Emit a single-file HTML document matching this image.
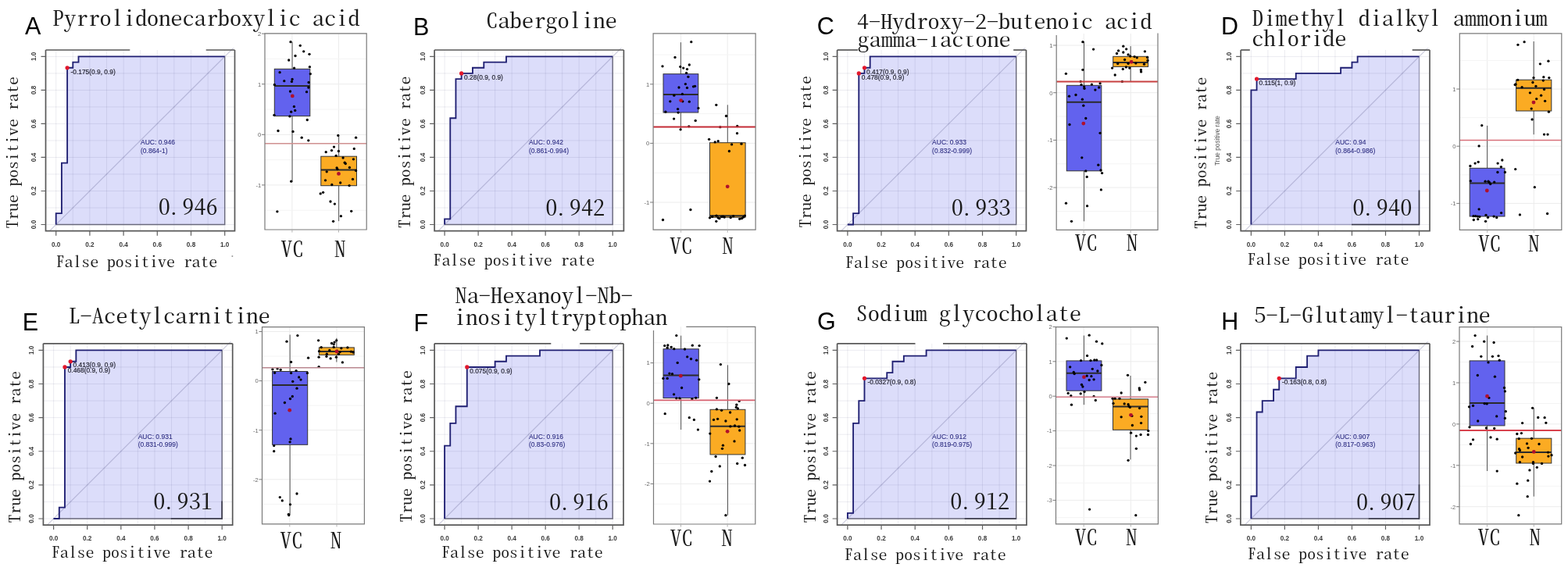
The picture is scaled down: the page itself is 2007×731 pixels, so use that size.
<!DOCTYPE html>
<html><head><meta charset="utf-8"><title>ROC curves and box plots</title>
<style>html,body{margin:0;padding:0;background:#fff;overflow:hidden}svg{display:block}</style>
</head><body>
<svg width="2007" height="731" viewBox="0 0 2007 731">
<rect width="2007" height="731" fill="#fff"/>
<clipPath id="cA"><rect x="58.5" y="61.5" width="244.5" height="234.2"/></clipPath>
<rect x="58.5" y="64" width="242" height="231.7" fill="#fff"/>
<polygon points="71.7,287.5 71.7,273.16 78.9,273.16 78.9,208.63 86.1,208.63 86.1,86.74 93.3,86.74 93.3,79.57 100.5,79.57 100.5,72.4 287.7,72.4 287.7,287.5 71.7,287.5" fill="#dcddfa"/>
<path d="M71.7 64V295.7M58.5 287.5H300.5M93.3 64V295.7M58.5 265.99H300.5M114.9 64V295.7M58.5 244.48H300.5M136.5 64V295.7M58.5 222.97H300.5M158.1 64V295.7M58.5 201.46H300.5M179.7 64V295.7M58.5 179.95H300.5M201.3 64V295.7M58.5 158.44H300.5M222.9 64V295.7M58.5 136.93H300.5M244.5 64V295.7M58.5 115.42H300.5M266.1 64V295.7M58.5 93.91H300.5M287.7 64V295.7M58.5 72.4H300.5" stroke="rgba(40,40,90,0.085)" stroke-width="1" fill="none"/>
<g clip-path="url(#cA)"><line x1="28.5" y1="330.52" x2="330.9" y2="29.38" stroke="rgba(100,100,150,0.32)" stroke-width="1.2"/></g>
<path d="M287.7 72.4V287.5H71.7" stroke="#6a6a7c" stroke-width="1.4" fill="none"/>
<path d="M71.7 287.5 L71.7 273.16 L78.9 273.16 L78.9 208.63 L86.1 208.63 L86.1 86.74 L93.3 86.74 L93.3 79.57 L100.5 79.57 L100.5 72.4 L287.7 72.4" stroke="#1f1f72" stroke-width="1.85" fill="none" stroke-linejoin="miter"/>
<path d="M58.5 64V295.7H300.5V64" stroke="#585858" stroke-width="1.7" fill="none"/>
<line x1="58.5" y1="64" x2="166.3" y2="64" stroke="#585858" stroke-width="1.7"/>
<line x1="263.7" y1="64" x2="300.5" y2="64" stroke="#585858" stroke-width="1.7"/>
<path d="M52.5 287.5H58.5M71.7 295.7V301.7M52.5 244.48H58.5M114.9 295.7V301.7M52.5 201.46H58.5M158.1 295.7V301.7M52.5 158.44H58.5M201.3 295.7V301.7M52.5 115.42H58.5M244.5 295.7V301.7M52.5 72.4H58.5M287.7 295.7V301.7" stroke="#606060" stroke-width="1.2" fill="none"/>
<text x="71.7" y="315.7" font-family="'Liberation Sans', Arial, sans-serif" font-size="8.2" fill="#3c3c3c" text-anchor="middle" font-weight="bold">0.0</text>
<text x="0" y="0" transform="translate(43.9,287.5) rotate(-90)" font-family="'Liberation Sans', Arial, sans-serif" font-size="8.2" fill="#3c3c3c" text-anchor="middle" dominant-baseline="central" font-weight="bold">0.0</text>
<text x="114.9" y="315.7" font-family="'Liberation Sans', Arial, sans-serif" font-size="8.2" fill="#3c3c3c" text-anchor="middle" font-weight="bold">0.2</text>
<text x="0" y="0" transform="translate(43.9,244.48) rotate(-90)" font-family="'Liberation Sans', Arial, sans-serif" font-size="8.2" fill="#3c3c3c" text-anchor="middle" dominant-baseline="central" font-weight="bold">0.2</text>
<text x="158.1" y="315.7" font-family="'Liberation Sans', Arial, sans-serif" font-size="8.2" fill="#3c3c3c" text-anchor="middle" font-weight="bold">0.4</text>
<text x="0" y="0" transform="translate(43.9,201.46) rotate(-90)" font-family="'Liberation Sans', Arial, sans-serif" font-size="8.2" fill="#3c3c3c" text-anchor="middle" dominant-baseline="central" font-weight="bold">0.4</text>
<text x="201.3" y="315.7" font-family="'Liberation Sans', Arial, sans-serif" font-size="8.2" fill="#3c3c3c" text-anchor="middle" font-weight="bold">0.6</text>
<text x="0" y="0" transform="translate(43.9,158.44) rotate(-90)" font-family="'Liberation Sans', Arial, sans-serif" font-size="8.2" fill="#3c3c3c" text-anchor="middle" dominant-baseline="central" font-weight="bold">0.6</text>
<text x="244.5" y="315.7" font-family="'Liberation Sans', Arial, sans-serif" font-size="8.2" fill="#3c3c3c" text-anchor="middle" font-weight="bold">0.8</text>
<text x="0" y="0" transform="translate(43.9,115.42) rotate(-90)" font-family="'Liberation Sans', Arial, sans-serif" font-size="8.2" fill="#3c3c3c" text-anchor="middle" dominant-baseline="central" font-weight="bold">0.8</text>
<text x="287.7" y="315.7" font-family="'Liberation Sans', Arial, sans-serif" font-size="8.2" fill="#3c3c3c" text-anchor="middle" font-weight="bold">1.0</text>
<text x="0" y="0" transform="translate(43.9,72.4) rotate(-90)" font-family="'Liberation Sans', Arial, sans-serif" font-size="8.2" fill="#3c3c3c" text-anchor="middle" dominant-baseline="central" font-weight="bold">1.0</text>
<circle cx="86.1" cy="86.74" r="2.6" fill="#e3182b"/>
<text x="90.5" y="94.9" font-family="'Liberation Sans', Arial, sans-serif" font-size="8.4" fill="#262633" text-anchor="start" stroke="#262633" stroke-width="0.2">-0.175(0.9, 0.9)</text>
<text x="180" y="185.45" font-family="'Liberation Sans', Arial, sans-serif" font-size="8.5" fill="#2c2c80" text-anchor="start" stroke="#2c2c80" stroke-width="0.1">AUC: 0.946</text>
<text x="180" y="195.95" font-family="'Liberation Sans', Arial, sans-serif" font-size="8.5" fill="#2c2c80" text-anchor="start" stroke="#2c2c80" stroke-width="0.1">(0.864-1)</text>
<rect x="339" y="42.8" width="130.2" height="251.2" fill="#fff"/>
<path d="M339 236.9H469.2M339 172.3H469.2M339 107.7H469.2M339 43.1H469.2M373.9 42.8V294M433.5 42.8V294" stroke="#ececec" stroke-width="1" fill="none"/>
<path d="M339 269.2H469.2M339 204.6H469.2M339 140H469.2M339 75.4H469.2" stroke="#f4f4f4" stroke-width="1" fill="none"/>
<path d="M374.05 53.6V88.3M374.05 148.6V232.5" stroke="#505050" stroke-width="1" fill="none"/>
<rect x="351.3" y="88.3" width="45.5" height="60.3" fill="#6262ee" stroke="#333" stroke-width="1"/>
<line x1="351.3" y1="110" x2="396.8" y2="110" stroke="#2b2b2b" stroke-width="2"/>
<path d="M433.65 173.1V200.2M433.65 237.7V283.1" stroke="#505050" stroke-width="1" fill="none"/>
<rect x="410.8" y="200.2" width="45.7" height="37.5" fill="#fbab23" stroke="#333" stroke-width="1"/>
<line x1="410.8" y1="217.5" x2="456.5" y2="217.5" stroke="#2b2b2b" stroke-width="2"/>
<g fill="#000"><circle cx="372" cy="53.7" r="1.65"/><circle cx="384.3" cy="58.3" r="1.65"/><circle cx="388.7" cy="65.8" r="1.65"/><circle cx="396" cy="69.3" r="1.65"/><circle cx="378" cy="71.5" r="1.65"/><circle cx="369.7" cy="77" r="1.65"/><circle cx="376.6" cy="87.1" r="1.65"/><circle cx="396.4" cy="85.7" r="1.65"/><circle cx="358.1" cy="92.7" r="1.65"/><circle cx="397.3" cy="94.6" r="1.65"/><circle cx="363.8" cy="103.7" r="1.65"/><circle cx="374.1" cy="101.4" r="1.65"/><circle cx="373.4" cy="104.4" r="1.65"/><circle cx="395.1" cy="105.5" r="1.65"/><circle cx="351.4" cy="108.5" r="1.65"/><circle cx="394.9" cy="112" r="1.65"/><circle cx="371.5" cy="117" r="1.65"/><circle cx="392.5" cy="117.7" r="1.65"/><circle cx="376.4" cy="136.4" r="1.65"/><circle cx="377.7" cy="141.4" r="1.65"/><circle cx="372.7" cy="143.2" r="1.65"/><circle cx="351" cy="147.3" r="1.65"/><circle cx="370.9" cy="148.9" r="1.65"/><circle cx="393.3" cy="153.5" r="1.65"/><circle cx="356" cy="167.5" r="1.65"/><circle cx="375" cy="168.4" r="1.65"/><circle cx="386.2" cy="176.2" r="1.65"/><circle cx="394.8" cy="179.8" r="1.65"/><circle cx="372.7" cy="232.2" r="1.65"/><circle cx="354.9" cy="270.8" r="1.65"/><circle cx="432.8" cy="173.4" r="1.65"/><circle cx="455.6" cy="176.2" r="1.65"/><circle cx="427.5" cy="188.1" r="1.65"/><circle cx="424.5" cy="192.6" r="1.65"/><circle cx="417.2" cy="194.7" r="1.65"/><circle cx="433.4" cy="193.5" r="1.65"/><circle cx="453.3" cy="190.4" r="1.65"/><circle cx="430.2" cy="199.3" r="1.65"/><circle cx="439.1" cy="202" r="1.65"/><circle cx="452.4" cy="203.8" r="1.65"/><circle cx="441.2" cy="208.2" r="1.65"/><circle cx="442.3" cy="209.5" r="1.65"/><circle cx="447.4" cy="214.4" r="1.65"/><circle cx="431.1" cy="214.8" r="1.65"/><circle cx="431.9" cy="216.6" r="1.65"/><circle cx="418.2" cy="219.8" r="1.65"/><circle cx="455.6" cy="218.4" r="1.65"/><circle cx="416.5" cy="230.8" r="1.65"/><circle cx="451.5" cy="229.4" r="1.65"/><circle cx="435.7" cy="234" r="1.65"/><circle cx="424.8" cy="236.5" r="1.65"/><circle cx="447.1" cy="237.6" r="1.65"/><circle cx="410.2" cy="247.9" r="1.65"/><circle cx="413.6" cy="246.3" r="1.65"/><circle cx="423" cy="258" r="1.65"/><circle cx="428.4" cy="261.1" r="1.65"/><circle cx="449.7" cy="270.3" r="1.65"/><circle cx="436.4" cy="276.7" r="1.65"/><circle cx="426.6" cy="283.3" r="1.65"/></g>
<circle cx="374.3" cy="122.9" r="2.4" fill="#b0102c"/>
<circle cx="433.5" cy="222.4" r="2.4" fill="#b0102c"/>
<line x1="339" y1="183.8" x2="469.2" y2="183.8" stroke="#cf9090" stroke-width="1.5"/>
<path d="M339 42.8H469.2V294H339Z" stroke="#7a7a7a" stroke-width="1.2" fill="none"/>
<text x="334.2" y="45.9" font-family="'Liberation Sans', Arial, sans-serif" font-size="7.6" fill="#666" text-anchor="end" >2</text>
<text x="334.2" y="110.5" font-family="'Liberation Sans', Arial, sans-serif" font-size="7.6" fill="#666" text-anchor="end" >1</text>
<text x="334.2" y="175.1" font-family="'Liberation Sans', Arial, sans-serif" font-size="7.6" fill="#666" text-anchor="end" >0</text>
<text x="334.2" y="239.7" font-family="'Liberation Sans', Arial, sans-serif" font-size="7.6" fill="#666" text-anchor="end" >-1</text>
<path d="M335 43.1H339M335 107.7H339M335 172.3H339M335 236.9H339" stroke="#7a7a7a" stroke-width="1" fill="none"/>
<path d="M373.9 294V297.5M433.5 294V297.5" stroke="#b0b0b0" stroke-width="1" fill="none"/>
<g><text x="340.3347" y="329.1" transform="scale(1.056,1)" font-family="'Noto Serif CJK SC', 'Liberation Serif', serif" font-size="27.651" style="font-feature-settings:'hwid' 1" fill="#1a1a1a" >VC</text></g>
<g><text x="405.2009" y="329.1" transform="scale(1.056,1)" font-family="'Noto Serif CJK SC', 'Liberation Serif', serif" font-size="27.651" style="font-feature-settings:'hwid' 1" fill="#1a1a1a" >N</text></g>
<text x="32" y="43.8" font-family="'Liberation Sans', Arial, sans-serif" font-size="30.5" fill="#000" text-anchor="start" >A</text>
<g><text x="59.2312" y="32.7" transform="scale(1.1328,1)" font-family="'Noto Serif CJK SC', 'Liberation Serif', serif" font-size="26.7114" style="font-feature-settings:'hwid' 1" fill="#1a1a1a" >Pyrrolidonecarboxylic acid</text></g>
<g><text x="62.8625" y="341.6" transform="scale(1.1406,1)" font-family="'Noto Serif CJK SC', 'Liberation Serif', serif" font-size="19.0604" style="font-feature-settings:'hwid' 1" fill="#1a1a1a" >False positive rate</text></g>
<g transform="translate(22.7,292.5) rotate(-90) scale(1.1332,1)"><text x="0" y="0" font-family="'Noto Serif CJK SC', 'Liberation Serif', serif" font-size="19.0604" style="font-feature-settings:'hwid' 1" fill="#1a1a1a">True positive rate</text></g>
<g><text x="188.0431 199.1699 216.231 230.325 244.4189" y="275.4" transform="scale(1.0785,1)" font-family="'Noto Serif CJK SC', 'Liberation Serif', serif" font-size="28.1879" style="font-feature-settings:'hwid' 1" fill="#1a1a1a" >0.946</text></g>
<circle cx="297.4" cy="328" r="1" fill="#999"/>
<clipPath id="cB"><rect x="556.1" y="61.5" width="244.8" height="234.2"/></clipPath>
<rect x="556.1" y="64" width="242.3" height="231.7" fill="#fff"/>
<polygon points="569.1,287.5 569.1,280.33 576.27,280.33 576.27,151.27 583.44,151.27 583.44,101.08 590.61,101.08 590.61,93.91 604.95,93.91 604.95,86.74 619.29,86.74 619.29,79.57 647.97,79.57 647.97,72.4 784.2,72.4 784.2,287.5 569.1,287.5" fill="#dcddfa"/>
<path d="M569.1 64V295.7M556.1 287.5H798.4M590.61 64V295.7M556.1 265.99H798.4M612.12 64V295.7M556.1 244.48H798.4M633.63 64V295.7M556.1 222.97H798.4M655.14 64V295.7M556.1 201.46H798.4M676.65 64V295.7M556.1 179.95H798.4M698.16 64V295.7M556.1 158.44H798.4M719.67 64V295.7M556.1 136.93H798.4M741.18 64V295.7M556.1 115.42H798.4M762.69 64V295.7M556.1 93.91H798.4M784.2 64V295.7M556.1 72.4H798.4" stroke="rgba(40,40,90,0.085)" stroke-width="1" fill="none"/>
<g clip-path="url(#cB)"><line x1="526.08" y1="330.52" x2="827.22" y2="29.38" stroke="rgba(100,100,150,0.32)" stroke-width="1.2"/></g>
<path d="M784.2 72.4V287.5H569.1" stroke="#6a6a7c" stroke-width="1.4" fill="none"/>
<path d="M569.1 287.5 L569.1 280.33 L576.27 280.33 L576.27 151.27 L583.44 151.27 L583.44 101.08 L590.61 101.08 L590.61 93.91 L604.95 93.91 L604.95 86.74 L619.29 86.74 L619.29 79.57 L647.97 79.57 L647.97 72.4 L784.2 72.4" stroke="#1f1f72" stroke-width="1.85" fill="none" stroke-linejoin="miter"/>
<path d="M556.1 64V295.7H798.4V64" stroke="#585858" stroke-width="1.7" fill="none"/>
<line x1="556.1" y1="64" x2="798.4" y2="64" stroke="#585858" stroke-width="1.7"/>
<path d="M550.1 287.5H556.1M569.1 295.7V301.7M550.1 244.48H556.1M612.12 295.7V301.7M550.1 201.46H556.1M655.14 295.7V301.7M550.1 158.44H556.1M698.16 295.7V301.7M550.1 115.42H556.1M741.18 295.7V301.7M550.1 72.4H556.1M784.2 295.7V301.7" stroke="#606060" stroke-width="1.2" fill="none"/>
<text x="569.1" y="315.7" font-family="'Liberation Sans', Arial, sans-serif" font-size="8.2" fill="#3c3c3c" text-anchor="middle" font-weight="bold">0.0</text>
<text x="0" y="0" transform="translate(541.5,287.5) rotate(-90)" font-family="'Liberation Sans', Arial, sans-serif" font-size="8.2" fill="#3c3c3c" text-anchor="middle" dominant-baseline="central" font-weight="bold">0.0</text>
<text x="612.12" y="315.7" font-family="'Liberation Sans', Arial, sans-serif" font-size="8.2" fill="#3c3c3c" text-anchor="middle" font-weight="bold">0.2</text>
<text x="0" y="0" transform="translate(541.5,244.48) rotate(-90)" font-family="'Liberation Sans', Arial, sans-serif" font-size="8.2" fill="#3c3c3c" text-anchor="middle" dominant-baseline="central" font-weight="bold">0.2</text>
<text x="655.14" y="315.7" font-family="'Liberation Sans', Arial, sans-serif" font-size="8.2" fill="#3c3c3c" text-anchor="middle" font-weight="bold">0.4</text>
<text x="0" y="0" transform="translate(541.5,201.46) rotate(-90)" font-family="'Liberation Sans', Arial, sans-serif" font-size="8.2" fill="#3c3c3c" text-anchor="middle" dominant-baseline="central" font-weight="bold">0.4</text>
<text x="698.16" y="315.7" font-family="'Liberation Sans', Arial, sans-serif" font-size="8.2" fill="#3c3c3c" text-anchor="middle" font-weight="bold">0.6</text>
<text x="0" y="0" transform="translate(541.5,158.44) rotate(-90)" font-family="'Liberation Sans', Arial, sans-serif" font-size="8.2" fill="#3c3c3c" text-anchor="middle" dominant-baseline="central" font-weight="bold">0.6</text>
<text x="741.18" y="315.7" font-family="'Liberation Sans', Arial, sans-serif" font-size="8.2" fill="#3c3c3c" text-anchor="middle" font-weight="bold">0.8</text>
<text x="0" y="0" transform="translate(541.5,115.42) rotate(-90)" font-family="'Liberation Sans', Arial, sans-serif" font-size="8.2" fill="#3c3c3c" text-anchor="middle" dominant-baseline="central" font-weight="bold">0.8</text>
<text x="784.2" y="315.7" font-family="'Liberation Sans', Arial, sans-serif" font-size="8.2" fill="#3c3c3c" text-anchor="middle" font-weight="bold">1.0</text>
<text x="0" y="0" transform="translate(541.5,72.4) rotate(-90)" font-family="'Liberation Sans', Arial, sans-serif" font-size="8.2" fill="#3c3c3c" text-anchor="middle" dominant-baseline="central" font-weight="bold">1.0</text>
<circle cx="590.61" cy="93.91" r="2.6" fill="#e3182b"/>
<text x="594.1" y="102" font-family="'Liberation Sans', Arial, sans-serif" font-size="8.4" fill="#262633" text-anchor="start" stroke="#262633" stroke-width="0.2">0.28(0.9, 0.9)</text>
<text x="676.95" y="185.45" font-family="'Liberation Sans', Arial, sans-serif" font-size="8.5" fill="#2c2c80" text-anchor="start" stroke="#2c2c80" stroke-width="0.1">AUC: 0.942</text>
<text x="676.95" y="195.95" font-family="'Liberation Sans', Arial, sans-serif" font-size="8.5" fill="#2c2c80" text-anchor="start" stroke="#2c2c80" stroke-width="0.1">(0.861-0.994)</text>
<rect x="836.1" y="42.8" width="131" height="251.4" fill="#fff"/>
<path d="M836.1 259H967.1M836.1 183.4H967.1M836.1 107.8H967.1M871.6 42.8V294.2M931.2 42.8V294.2" stroke="#ececec" stroke-width="1" fill="none"/>
<path d="M836.1 221.2H967.1M836.1 145.6H967.1M836.1 70H967.1" stroke="#f4f4f4" stroke-width="1" fill="none"/>
<path d="M871.4 54.2V94.7M871.4 144V165.6" stroke="#505050" stroke-width="1" fill="none"/>
<rect x="849" y="94.7" width="44.8" height="49.3" fill="#6262ee" stroke="#333" stroke-width="1"/>
<line x1="849" y1="121" x2="893.8" y2="121" stroke="#2b2b2b" stroke-width="2"/>
<path d="M931.3 134.3V182.7M931.3 278.2V278.2" stroke="#505050" stroke-width="1" fill="none"/>
<rect x="908.5" y="182.7" width="45.6" height="95.5" fill="#fbab23" stroke="#333" stroke-width="1"/>
<line x1="908.5" y1="276.3" x2="954.1" y2="276.3" stroke="#2b2b2b" stroke-width="2"/>
<g fill="#000"><circle cx="884.8" cy="53.7" r="1.65"/><circle cx="864" cy="73.4" r="1.65"/><circle cx="848" cy="84.8" r="1.65"/><circle cx="870.8" cy="85.4" r="1.65"/><circle cx="874.7" cy="87.1" r="1.65"/><circle cx="882.3" cy="83" r="1.65"/><circle cx="879.5" cy="88.6" r="1.65"/><circle cx="878.6" cy="93.4" r="1.65"/><circle cx="880.9" cy="98.3" r="1.65"/><circle cx="877.4" cy="107.6" r="1.65"/><circle cx="869" cy="112" r="1.65"/><circle cx="879.5" cy="112.4" r="1.65"/><circle cx="887.5" cy="110.8" r="1.65"/><circle cx="889.5" cy="110.3" r="1.65"/><circle cx="873.4" cy="120.4" r="1.65"/><circle cx="862.8" cy="122.2" r="1.65"/><circle cx="857.8" cy="129.8" r="1.65"/><circle cx="873.8" cy="129.8" r="1.65"/><circle cx="882.3" cy="130.2" r="1.65"/><circle cx="893.9" cy="138.4" r="1.65"/><circle cx="867.6" cy="139.6" r="1.65"/><circle cx="851.9" cy="143.2" r="1.65"/><circle cx="868.1" cy="144.1" r="1.65"/><circle cx="862.6" cy="152.1" r="1.65"/><circle cx="890.2" cy="154.4" r="1.65"/><circle cx="881.8" cy="161.8" r="1.65"/><circle cx="871.1" cy="165.8" r="1.65"/><circle cx="883.9" cy="268.5" r="1.65"/><circle cx="848.5" cy="281.5" r="1.65"/><circle cx="916.8" cy="134.3" r="1.65"/><circle cx="929.5" cy="148.5" r="1.65"/><circle cx="921.8" cy="162.7" r="1.65"/><circle cx="943.7" cy="161.5" r="1.65"/><circle cx="943.5" cy="170.7" r="1.65"/><circle cx="907.6" cy="178.3" r="1.65"/><circle cx="915.2" cy="181.9" r="1.65"/><circle cx="919.2" cy="180.7" r="1.65"/><circle cx="936.6" cy="184.9" r="1.65"/><circle cx="949" cy="184.2" r="1.65"/><circle cx="933.4" cy="193.5" r="1.65"/><circle cx="908.5" cy="278.8" r="1.65"/><circle cx="911.7" cy="277.4" r="1.65"/><circle cx="917" cy="276.2" r="1.65"/><circle cx="919.2" cy="278.8" r="1.65"/><circle cx="920.9" cy="279.7" r="1.65"/><circle cx="923.6" cy="277.4" r="1.65"/><circle cx="925.4" cy="277.1" r="1.65"/><circle cx="927.2" cy="278" r="1.65"/><circle cx="935.2" cy="278.5" r="1.65"/><circle cx="938.7" cy="276.7" r="1.65"/><circle cx="946.7" cy="280.3" r="1.65"/><circle cx="949.4" cy="279.7" r="1.65"/><circle cx="951.5" cy="278" r="1.65"/><circle cx="953.3" cy="276.2" r="1.65"/><circle cx="916.8" cy="283.3" r="1.65"/></g>
<circle cx="871.6" cy="128.6" r="2.4" fill="#b0102c"/>
<circle cx="931.2" cy="238.8" r="2.4" fill="#b0102c"/>
<line x1="836.1" y1="162.4" x2="967.1" y2="162.4" stroke="#c42c36" stroke-width="2"/>
<path d="M836.1 42.8H967.1V294.2H836.1Z" stroke="#7a7a7a" stroke-width="1.2" fill="none"/>
<text x="831.3" y="110.6" font-family="'Liberation Sans', Arial, sans-serif" font-size="7.6" fill="#666" text-anchor="end" >1</text>
<text x="831.3" y="186.2" font-family="'Liberation Sans', Arial, sans-serif" font-size="7.6" fill="#666" text-anchor="end" >0</text>
<text x="831.3" y="261.8" font-family="'Liberation Sans', Arial, sans-serif" font-size="7.6" fill="#666" text-anchor="end" >-1</text>
<path d="M832.1 107.8H836.1M832.1 183.4H836.1M832.1 259H836.1" stroke="#7a7a7a" stroke-width="1" fill="none"/>
<path d="M871.6 294.2V297.7M931.2 294.2V297.7" stroke="#b0b0b0" stroke-width="1" fill="none"/>
<g><text x="811.7275" y="325.3" transform="scale(1.056,1)" font-family="'Noto Serif CJK SC', 'Liberation Serif', serif" font-size="27.651" style="font-feature-settings:'hwid' 1" fill="#1a1a1a" >VC</text></g>
<g><text x="875.268" y="325.3" transform="scale(1.056,1)" font-family="'Noto Serif CJK SC', 'Liberation Serif', serif" font-size="27.651" style="font-feature-settings:'hwid' 1" fill="#1a1a1a" >N</text></g>
<text x="529.1" y="44.9" font-family="'Liberation Sans', Arial, sans-serif" font-size="30.5" fill="#000" text-anchor="start" >B</text>
<g><text x="544.8252" y="35.7" transform="scale(1.1418,1)" font-family="'Noto Serif CJK SC', 'Liberation Serif', serif" font-size="26.7114" style="font-feature-settings:'hwid' 1" fill="#1a1a1a" >Cabergoline</text></g>
<g><text x="486.2419" y="340.5" transform="scale(1.1406,1)" font-family="'Noto Serif CJK SC', 'Liberation Serif', serif" font-size="19.0604" style="font-feature-settings:'hwid' 1" fill="#1a1a1a" >False positive rate</text></g>
<g transform="translate(525.1,291.9) rotate(-90) scale(1.1332,1)"><text x="0" y="0" font-family="'Noto Serif CJK SC', 'Liberation Serif', serif" font-size="19.0604" style="font-feature-settings:'hwid' 1" fill="#1a1a1a">True positive rate</text></g>
<g><text x="647.4876 658.6144 675.6756 689.7695 703.8635" y="276" transform="scale(1.0785,1)" font-family="'Noto Serif CJK SC', 'Liberation Serif', serif" font-size="28.1879" style="font-feature-settings:'hwid' 1" fill="#1a1a1a" >0.942</text></g>
<clipPath id="cC"><rect x="1071.6" y="61.5" width="244.4" height="234.2"/></clipPath>
<rect x="1071.6" y="64" width="241.9" height="231.7" fill="#fff"/>
<polygon points="1084.9,287.5 1092.09,287.5 1092.09,273.16 1099.29,273.16 1099.29,93.91 1106.48,93.91 1106.48,86.74 1113.67,86.74 1113.67,72.4 1300.7,72.4 1300.7,287.5 1084.9,287.5" fill="#dcddfa"/>
<path d="M1084.9 64V295.7M1071.6 287.5H1313.5M1106.48 64V295.7M1071.6 265.99H1313.5M1128.06 64V295.7M1071.6 244.48H1313.5M1149.64 64V295.7M1071.6 222.97H1313.5M1171.22 64V295.7M1071.6 201.46H1313.5M1192.8 64V295.7M1071.6 179.95H1313.5M1214.38 64V295.7M1071.6 158.44H1313.5M1235.96 64V295.7M1071.6 136.93H1313.5M1257.54 64V295.7M1071.6 115.42H1313.5M1279.12 64V295.7M1071.6 93.91H1313.5M1300.7 64V295.7M1071.6 72.4H1313.5" stroke="rgba(40,40,90,0.085)" stroke-width="1" fill="none"/>
<g clip-path="url(#cC)"><line x1="1041.74" y1="330.52" x2="1343.86" y2="29.38" stroke="rgba(100,100,150,0.32)" stroke-width="1.2"/></g>
<path d="M1300.7 72.4V287.5H1084.9" stroke="#6a6a7c" stroke-width="1.4" fill="none"/>
<path d="M1084.9 287.5 L1092.09 287.5 L1092.09 273.16 L1099.29 273.16 L1099.29 93.91 L1106.48 93.91 L1106.48 86.74 L1113.67 86.74 L1113.67 72.4 L1300.7 72.4" stroke="#1f1f72" stroke-width="1.85" fill="none" stroke-linejoin="miter"/>
<path d="M1071.6 64V295.7H1313.5V64" stroke="#585858" stroke-width="1.7" fill="none"/>
<line x1="1071.6" y1="64" x2="1098" y2="64" stroke="#585858" stroke-width="1.7"/>
<line x1="1297.2" y1="64" x2="1313.5" y2="64" stroke="#585858" stroke-width="1.7"/>
<path d="M1065.6 287.5H1071.6M1084.9 295.7V301.7M1065.6 244.48H1071.6M1128.06 295.7V301.7M1065.6 201.46H1071.6M1171.22 295.7V301.7M1065.6 158.44H1071.6M1214.38 295.7V301.7M1065.6 115.42H1071.6M1257.54 295.7V301.7M1065.6 72.4H1071.6M1300.7 295.7V301.7" stroke="#606060" stroke-width="1.2" fill="none"/>
<text x="1084.9" y="315.7" font-family="'Liberation Sans', Arial, sans-serif" font-size="8.2" fill="#3c3c3c" text-anchor="middle" font-weight="bold">0.0</text>
<text x="0" y="0" transform="translate(1057,287.5) rotate(-90)" font-family="'Liberation Sans', Arial, sans-serif" font-size="8.2" fill="#3c3c3c" text-anchor="middle" dominant-baseline="central" font-weight="bold">0.0</text>
<text x="1128.06" y="315.7" font-family="'Liberation Sans', Arial, sans-serif" font-size="8.2" fill="#3c3c3c" text-anchor="middle" font-weight="bold">0.2</text>
<text x="0" y="0" transform="translate(1057,244.48) rotate(-90)" font-family="'Liberation Sans', Arial, sans-serif" font-size="8.2" fill="#3c3c3c" text-anchor="middle" dominant-baseline="central" font-weight="bold">0.2</text>
<text x="1171.22" y="315.7" font-family="'Liberation Sans', Arial, sans-serif" font-size="8.2" fill="#3c3c3c" text-anchor="middle" font-weight="bold">0.4</text>
<text x="0" y="0" transform="translate(1057,201.46) rotate(-90)" font-family="'Liberation Sans', Arial, sans-serif" font-size="8.2" fill="#3c3c3c" text-anchor="middle" dominant-baseline="central" font-weight="bold">0.4</text>
<text x="1214.38" y="315.7" font-family="'Liberation Sans', Arial, sans-serif" font-size="8.2" fill="#3c3c3c" text-anchor="middle" font-weight="bold">0.6</text>
<text x="0" y="0" transform="translate(1057,158.44) rotate(-90)" font-family="'Liberation Sans', Arial, sans-serif" font-size="8.2" fill="#3c3c3c" text-anchor="middle" dominant-baseline="central" font-weight="bold">0.6</text>
<text x="1257.54" y="315.7" font-family="'Liberation Sans', Arial, sans-serif" font-size="8.2" fill="#3c3c3c" text-anchor="middle" font-weight="bold">0.8</text>
<text x="0" y="0" transform="translate(1057,115.42) rotate(-90)" font-family="'Liberation Sans', Arial, sans-serif" font-size="8.2" fill="#3c3c3c" text-anchor="middle" dominant-baseline="central" font-weight="bold">0.8</text>
<text x="1300.7" y="315.7" font-family="'Liberation Sans', Arial, sans-serif" font-size="8.2" fill="#3c3c3c" text-anchor="middle" font-weight="bold">1.0</text>
<text x="0" y="0" transform="translate(1057,72.4) rotate(-90)" font-family="'Liberation Sans', Arial, sans-serif" font-size="8.2" fill="#3c3c3c" text-anchor="middle" dominant-baseline="central" font-weight="bold">1.0</text>
<circle cx="1099.29" cy="93.91" r="2.6" fill="#e3182b"/>
<text x="1102.8" y="102" font-family="'Liberation Sans', Arial, sans-serif" font-size="8.4" fill="#262633" text-anchor="start" stroke="#262633" stroke-width="0.2">0.478(0.9, 0.9)</text>
<circle cx="1106.48" cy="86.74" r="2.6" fill="#e3182b"/>
<text x="1109" y="94.8" font-family="'Liberation Sans', Arial, sans-serif" font-size="8.4" fill="#262633" text-anchor="start" stroke="#262633" stroke-width="0.2">0.417(0.9, 0.9)</text>
<text x="1193.1" y="185.45" font-family="'Liberation Sans', Arial, sans-serif" font-size="8.5" fill="#2c2c80" text-anchor="start" stroke="#2c2c80" stroke-width="0.1">AUC: 0.933</text>
<text x="1193.1" y="195.95" font-family="'Liberation Sans', Arial, sans-serif" font-size="8.5" fill="#2c2c80" text-anchor="start" stroke="#2c2c80" stroke-width="0.1">(0.832-0.999)</text>
<rect x="1352.2" y="43" width="129.8" height="251.4" fill="#fff"/>
<path d="M1352.2 240.1H1482M1352.2 179.4H1482M1352.2 118.7H1482M1352.2 58H1482M1387.2 43V294.4M1447.3 43V294.4" stroke="#ececec" stroke-width="1" fill="none"/>
<path d="M1352.2 270.45H1482M1352.2 209.75H1482M1352.2 149.05H1482M1352.2 88.35H1482" stroke="#f4f4f4" stroke-width="1" fill="none"/>
<path d="M1387.55 53V109.3M1387.55 218.8V283.3" stroke="#505050" stroke-width="1" fill="none"/>
<rect x="1365.3" y="109.3" width="44.5" height="109.5" fill="#6262ee" stroke="#333" stroke-width="1"/>
<line x1="1365.3" y1="130.7" x2="1409.8" y2="130.7" stroke="#2b2b2b" stroke-width="2"/>
<path d="M1447.15 59.1V72.3M1447.15 85.4V104.4" stroke="#505050" stroke-width="1" fill="none"/>
<rect x="1424.7" y="72.3" width="44.9" height="13.1" fill="#fbab23" stroke="#333" stroke-width="1"/>
<line x1="1424.7" y1="79.9" x2="1469.6" y2="79.9" stroke="#2b2b2b" stroke-width="2"/>
<g fill="#000"><circle cx="1385.9" cy="53.7" r="1.65"/><circle cx="1399.6" cy="63.1" r="1.65"/><circle cx="1364.4" cy="94.3" r="1.65"/><circle cx="1385.9" cy="89.3" r="1.65"/><circle cx="1383.2" cy="104.4" r="1.65"/><circle cx="1384.1" cy="108.5" r="1.65"/><circle cx="1387.7" cy="111.1" r="1.65"/><circle cx="1388" cy="113.3" r="1.65"/><circle cx="1397.4" cy="108.1" r="1.65"/><circle cx="1408.1" cy="106.7" r="1.65"/><circle cx="1406.7" cy="112" r="1.65"/><circle cx="1401.9" cy="115.1" r="1.65"/><circle cx="1368.5" cy="123.2" r="1.65"/><circle cx="1377" cy="121.5" r="1.65"/><circle cx="1385.4" cy="127.2" r="1.65"/><circle cx="1386.8" cy="135.2" r="1.65"/><circle cx="1389.8" cy="151.5" r="1.65"/><circle cx="1369" cy="159.5" r="1.65"/><circle cx="1408.1" cy="170.3" r="1.65"/><circle cx="1384.8" cy="201.8" r="1.65"/><circle cx="1405.8" cy="211.2" r="1.65"/><circle cx="1389.8" cy="218.9" r="1.65"/><circle cx="1409" cy="218" r="1.65"/><circle cx="1410.6" cy="221.6" r="1.65"/><circle cx="1391.2" cy="226.4" r="1.65"/><circle cx="1409.4" cy="242.9" r="1.65"/><circle cx="1364.5" cy="260.2" r="1.65"/><circle cx="1391.6" cy="263.7" r="1.65"/><circle cx="1371.5" cy="283.3" r="1.65"/><circle cx="1437.8" cy="59.2" r="1.65"/><circle cx="1441.7" cy="62.8" r="1.65"/><circle cx="1431.6" cy="64.9" r="1.65"/><circle cx="1429.5" cy="68.5" r="1.65"/><circle cx="1437.8" cy="67" r="1.65"/><circle cx="1465.4" cy="65.8" r="1.65"/><circle cx="1444.1" cy="69.9" r="1.65"/><circle cx="1446.7" cy="72" r="1.65"/><circle cx="1452.1" cy="72.6" r="1.65"/><circle cx="1455.3" cy="73.8" r="1.65"/><circle cx="1468.6" cy="73.4" r="1.65"/><circle cx="1439.6" cy="76.5" r="1.65"/><circle cx="1448.5" cy="78.8" r="1.65"/><circle cx="1453.8" cy="80.9" r="1.65"/><circle cx="1444.1" cy="81.3" r="1.65"/><circle cx="1430.7" cy="81.4" r="1.65"/><circle cx="1464.5" cy="82.2" r="1.65"/><circle cx="1469" cy="77.4" r="1.65"/><circle cx="1441.4" cy="85.9" r="1.65"/><circle cx="1445.8" cy="87.1" r="1.65"/><circle cx="1437.3" cy="88.4" r="1.65"/><circle cx="1423.6" cy="87.1" r="1.65"/><circle cx="1460.4" cy="89.4" r="1.65"/><circle cx="1460.6" cy="91.9" r="1.65"/><circle cx="1427.2" cy="96" r="1.65"/><circle cx="1436.4" cy="104.4" r="1.65"/></g>
<circle cx="1386.8" cy="158.1" r="2.4" fill="#b0102c"/>
<circle cx="1448" cy="79.3" r="2.4" fill="#b0102c"/>
<line x1="1352.2" y1="104.4" x2="1482" y2="104.4" stroke="#c84040" stroke-width="2"/>
<path d="M1352.2 44.9V294.4H1482V42.6" stroke="#7a7a7a" stroke-width="1.2" fill="none"/>
<text x="1347.4" y="60.8" font-family="'Liberation Sans', Arial, sans-serif" font-size="7.6" fill="#666" text-anchor="end" >1</text>
<text x="1347.4" y="121.5" font-family="'Liberation Sans', Arial, sans-serif" font-size="7.6" fill="#666" text-anchor="end" >0</text>
<text x="1347.4" y="182.2" font-family="'Liberation Sans', Arial, sans-serif" font-size="7.6" fill="#666" text-anchor="end" >-1</text>
<text x="1347.4" y="242.9" font-family="'Liberation Sans', Arial, sans-serif" font-size="7.6" fill="#666" text-anchor="end" >-2</text>
<path d="M1348.2 58H1352.2M1348.2 118.7H1352.2M1348.2 179.4H1352.2M1348.2 240.1H1352.2" stroke="#7a7a7a" stroke-width="1" fill="none"/>
<path d="M1387.2 294.4V297.9M1447.3 294.4V297.9" stroke="#b0b0b0" stroke-width="1" fill="none"/>
<g><text x="1302.7223" y="321.5" transform="scale(1.056,1)" font-family="'Noto Serif CJK SC', 'Liberation Serif', serif" font-size="27.651" style="font-feature-settings:'hwid' 1" fill="#1a1a1a" >VC</text></g>
<g><text x="1365.3158" y="321.5" transform="scale(1.056,1)" font-family="'Noto Serif CJK SC', 'Liberation Serif', serif" font-size="27.651" style="font-feature-settings:'hwid' 1" fill="#1a1a1a" >N</text></g>
<text x="1045.8" y="44.2" font-family="'Liberation Sans', Arial, sans-serif" font-size="30.5" fill="#000" text-anchor="start" >C</text>
<g><text x="921.521" y="36.9" transform="scale(1.1904,1)" font-family="'Noto Serif CJK SC', 'Liberation Serif', serif" font-size="25.3691" style="font-feature-settings:'hwid' 1" fill="#1a1a1a" >4-Hydroxy-2-butenoic acid</text></g>
<clipPath id="tcC"><rect x="0" y="46.6" width="2007" height="100"/></clipPath>
<g clip-path="url(#tcC)"><text x="921.941" y="59.8" transform="scale(1.1904,1)" font-family="'Noto Serif CJK SC', 'Liberation Serif', serif" font-size="25.3691" style="font-feature-settings:'hwid' 1" fill="#1a1a1a" >gamma-lactone</text></g>
<g><text x="948.7241" y="342.8" transform="scale(1.1406,1)" font-family="'Noto Serif CJK SC', 'Liberation Serif', serif" font-size="19.0604" style="font-feature-settings:'hwid' 1" fill="#1a1a1a" >False positive rate</text></g>
<g transform="translate(1038,291.5) rotate(-90) scale(1.1332,1)"><text x="0" y="0" font-family="'Noto Serif CJK SC', 'Liberation Serif', serif" font-size="19.0604" style="font-feature-settings:'hwid' 1" fill="#1a1a1a">True positive rate</text></g>
<g><text x="1129.1858 1140.3126 1157.3737 1171.4677 1185.5616" y="275.8" transform="scale(1.0785,1)" font-family="'Noto Serif CJK SC', 'Liberation Serif', serif" font-size="28.1879" style="font-feature-settings:'hwid' 1" fill="#1a1a1a" >0.933</text></g>
<clipPath id="cD"><rect x="1588.2" y="61.5" width="244.3" height="234.2"/></clipPath>
<rect x="1588.2" y="64" width="241.8" height="231.7" fill="#fff"/>
<polygon points="1601.4,287.5 1601.4,115.42 1608.57,115.42 1608.57,101.08 1658.76,101.08 1658.76,93.91 1716.12,93.91 1716.12,86.74 1730.46,86.74 1730.46,79.57 1737.63,79.57 1737.63,72.4 1816.5,72.4 1816.5,287.5 1601.4,287.5" fill="#dcddfa"/>
<path d="M1601.4 64V295.7M1588.2 287.5H1830M1622.91 64V295.7M1588.2 265.99H1830M1644.42 64V295.7M1588.2 244.48H1830M1665.93 64V295.7M1588.2 222.97H1830M1687.44 64V295.7M1588.2 201.46H1830M1708.95 64V295.7M1588.2 179.95H1830M1730.46 64V295.7M1588.2 158.44H1830M1751.97 64V295.7M1588.2 136.93H1830M1773.48 64V295.7M1588.2 115.42H1830M1794.99 64V295.7M1588.2 93.91H1830M1816.5 64V295.7M1588.2 72.4H1830" stroke="rgba(40,40,90,0.085)" stroke-width="1" fill="none"/>
<g clip-path="url(#cD)"><line x1="1558.38" y1="330.52" x2="1859.52" y2="29.38" stroke="rgba(100,100,150,0.32)" stroke-width="1.2"/></g>
<path d="M1816.5 72.4V287.5H1601.4" stroke="#9c9cba" stroke-width="1.4" fill="none"/>
<path d="M1816.5 243.6V287.5H1730" stroke="#3a3a4a" stroke-width="1.6" fill="none"/>
<path d="M1601.4 287.5 L1601.4 115.42 L1608.57 115.42 L1608.57 101.08 L1658.76 101.08 L1658.76 93.91 L1716.12 93.91 L1716.12 86.74 L1730.46 86.74 L1730.46 79.57 L1737.63 79.57 L1737.63 72.4 L1816.5 72.4" stroke="#1f1f72" stroke-width="1.85" fill="none" stroke-linejoin="miter"/>
<path d="M1588.2 64V295.7H1830V64" stroke="#585858" stroke-width="1.7" fill="none"/>
<line x1="1588.2" y1="64" x2="1599.8" y2="64" stroke="#585858" stroke-width="1.7"/>
<line x1="1807.7" y1="64" x2="1830" y2="64" stroke="#585858" stroke-width="1.7"/>
<path d="M1582.2 287.5H1588.2M1601.4 295.7V301.7M1582.2 244.48H1588.2M1644.42 295.7V301.7M1582.2 201.46H1588.2M1687.44 295.7V301.7M1582.2 158.44H1588.2M1730.46 295.7V301.7M1582.2 115.42H1588.2M1773.48 295.7V301.7M1582.2 72.4H1588.2M1816.5 295.7V301.7" stroke="#606060" stroke-width="1.2" fill="none"/>
<text x="1601.4" y="315.7" font-family="'Liberation Sans', Arial, sans-serif" font-size="8.2" fill="#3c3c3c" text-anchor="middle" font-weight="bold">0.0</text>
<text x="0" y="0" transform="translate(1573.6,287.5) rotate(-90)" font-family="'Liberation Sans', Arial, sans-serif" font-size="8.2" fill="#3c3c3c" text-anchor="middle" dominant-baseline="central" font-weight="bold">0.0</text>
<text x="1644.42" y="315.7" font-family="'Liberation Sans', Arial, sans-serif" font-size="8.2" fill="#3c3c3c" text-anchor="middle" font-weight="bold">0.2</text>
<text x="0" y="0" transform="translate(1573.6,244.48) rotate(-90)" font-family="'Liberation Sans', Arial, sans-serif" font-size="8.2" fill="#3c3c3c" text-anchor="middle" dominant-baseline="central" font-weight="bold">0.2</text>
<text x="1687.44" y="315.7" font-family="'Liberation Sans', Arial, sans-serif" font-size="8.2" fill="#3c3c3c" text-anchor="middle" font-weight="bold">0.4</text>
<text x="0" y="0" transform="translate(1573.6,201.46) rotate(-90)" font-family="'Liberation Sans', Arial, sans-serif" font-size="8.2" fill="#3c3c3c" text-anchor="middle" dominant-baseline="central" font-weight="bold">0.4</text>
<text x="1730.46" y="315.7" font-family="'Liberation Sans', Arial, sans-serif" font-size="8.2" fill="#3c3c3c" text-anchor="middle" font-weight="bold">0.6</text>
<text x="0" y="0" transform="translate(1573.6,158.44) rotate(-90)" font-family="'Liberation Sans', Arial, sans-serif" font-size="8.2" fill="#3c3c3c" text-anchor="middle" dominant-baseline="central" font-weight="bold">0.6</text>
<text x="1773.48" y="315.7" font-family="'Liberation Sans', Arial, sans-serif" font-size="8.2" fill="#3c3c3c" text-anchor="middle" font-weight="bold">0.8</text>
<text x="0" y="0" transform="translate(1573.6,115.42) rotate(-90)" font-family="'Liberation Sans', Arial, sans-serif" font-size="8.2" fill="#3c3c3c" text-anchor="middle" dominant-baseline="central" font-weight="bold">0.8</text>
<text x="1816.5" y="315.7" font-family="'Liberation Sans', Arial, sans-serif" font-size="8.2" fill="#3c3c3c" text-anchor="middle" font-weight="bold">1.0</text>
<text x="0" y="0" transform="translate(1573.6,72.4) rotate(-90)" font-family="'Liberation Sans', Arial, sans-serif" font-size="8.2" fill="#3c3c3c" text-anchor="middle" dominant-baseline="central" font-weight="bold">1.0</text>
<circle cx="1608.57" cy="101.08" r="2.6" fill="#e3182b"/>
<text x="1611.5" y="109.4" font-family="'Liberation Sans', Arial, sans-serif" font-size="8.4" fill="#262633" text-anchor="start" stroke="#262633" stroke-width="0.2">0.115(1, 0.9)</text>
<text x="1709.25" y="185.45" font-family="'Liberation Sans', Arial, sans-serif" font-size="8.5" fill="#2c2c80" text-anchor="start" stroke="#2c2c80" stroke-width="0.1">AUC: 0.94</text>
<text x="1709.25" y="195.95" font-family="'Liberation Sans', Arial, sans-serif" font-size="8.5" fill="#2c2c80" text-anchor="start" stroke="#2c2c80" stroke-width="0.1">(0.864-0.986)</text>
<rect x="1868.3" y="42.8" width="130.5" height="251.6" fill="#fff"/>
<path d="M1868.3 260.4H1998.8M1868.3 187.2H1998.8M1868.3 114H1998.8M1903.5 42.8V294.4M1963.3 42.8V294.4" stroke="#ececec" stroke-width="1" fill="none"/>
<path d="M1868.3 223.8H1998.8M1868.3 150.6H1998.8M1868.3 77.4H1998.8" stroke="#f4f4f4" stroke-width="1" fill="none"/>
<path d="M1903.6 160.9V215.3M1903.6 277V277" stroke="#505050" stroke-width="1" fill="none"/>
<rect x="1881.2" y="215.3" width="44.8" height="61.7" fill="#6262ee" stroke="#333" stroke-width="1"/>
<line x1="1881.2" y1="234.4" x2="1926" y2="234.4" stroke="#2b2b2b" stroke-width="2"/>
<path d="M1963.15 53V102.2M1963.15 142V172.2" stroke="#505050" stroke-width="1" fill="none"/>
<rect x="1940.5" y="102.2" width="45.3" height="39.8" fill="#fbab23" stroke="#333" stroke-width="1"/>
<line x1="1940.5" y1="112.7" x2="1985.8" y2="112.7" stroke="#2b2b2b" stroke-width="2"/>
<g fill="#000"><circle cx="1942.9" cy="57.3" r="1.65"/><circle cx="1951.1" cy="53.7" r="1.65"/><circle cx="1971.4" cy="81.8" r="1.65"/><circle cx="1981.9" cy="78.2" r="1.65"/><circle cx="1963" cy="99.6" r="1.65"/><circle cx="1975.8" cy="98.7" r="1.65"/><circle cx="1982.8" cy="99.6" r="1.65"/><circle cx="1942.7" cy="102.3" r="1.65"/><circle cx="1975.3" cy="103.1" r="1.65"/><circle cx="1961.9" cy="105.5" r="1.65"/><circle cx="1940.1" cy="108" r="1.65"/><circle cx="1939.2" cy="108.5" r="1.65"/><circle cx="1965.9" cy="110.3" r="1.65"/><circle cx="1948.1" cy="111.7" r="1.65"/><circle cx="1976.5" cy="114.4" r="1.65"/><circle cx="1958.4" cy="118.8" r="1.65"/><circle cx="1972.6" cy="122.2" r="1.65"/><circle cx="1966.7" cy="126.6" r="1.65"/><circle cx="1977.6" cy="129.3" r="1.65"/><circle cx="1962.5" cy="131.1" r="1.65"/><circle cx="1960.2" cy="139.1" r="1.65"/><circle cx="1982.4" cy="143.2" r="1.65"/><circle cx="1961.1" cy="152.9" r="1.65"/><circle cx="1976.5" cy="172.1" r="1.65"/><circle cx="1981" cy="172.1" r="1.65"/><circle cx="1964.3" cy="239.7" r="1.65"/><circle cx="1945.4" cy="274.9" r="1.65"/><circle cx="1980.6" cy="273.5" r="1.65"/><circle cx="1939.7" cy="216.6" r="1.65"/><circle cx="1896.7" cy="160.6" r="1.65"/><circle cx="1893.1" cy="186.9" r="1.65"/><circle cx="1892.2" cy="207.3" r="1.65"/><circle cx="1888.1" cy="209.1" r="1.65"/><circle cx="1881.9" cy="212.5" r="1.65"/><circle cx="1917.1" cy="209.1" r="1.65"/><circle cx="1922.8" cy="205" r="1.65"/><circle cx="1921.4" cy="213.6" r="1.65"/><circle cx="1916.9" cy="220.5" r="1.65"/><circle cx="1926.4" cy="220.5" r="1.65"/><circle cx="1882.3" cy="231.7" r="1.65"/><circle cx="1901.1" cy="232.2" r="1.65"/><circle cx="1905" cy="232.2" r="1.65"/><circle cx="1906.3" cy="233.5" r="1.65"/><circle cx="1907.7" cy="235.6" r="1.65"/><circle cx="1912.7" cy="233.1" r="1.65"/><circle cx="1893.1" cy="267.8" r="1.65"/><circle cx="1921.6" cy="272.6" r="1.65"/><circle cx="1886" cy="276.7" r="1.65"/><circle cx="1888.7" cy="276.7" r="1.65"/><circle cx="1891.3" cy="277.1" r="1.65"/><circle cx="1893.8" cy="277.4" r="1.65"/><circle cx="1902" cy="275.3" r="1.65"/><circle cx="1904.5" cy="278.3" r="1.65"/><circle cx="1912.1" cy="277.1" r="1.65"/><circle cx="1915.7" cy="278.5" r="1.65"/><circle cx="1886.3" cy="281.5" r="1.65"/><circle cx="1891.7" cy="280.6" r="1.65"/><circle cx="1901.5" cy="283.3" r="1.65"/></g>
<circle cx="1903.3" cy="244" r="2.4" fill="#b0102c"/>
<circle cx="1963" cy="131.1" r="2.4" fill="#b0102c"/>
<line x1="1868.3" y1="179.5" x2="1998.8" y2="179.5" stroke="#d8707a" stroke-width="1.6"/>
<path d="M1868.3 42.8H1998.8V294.4H1868.3Z" stroke="#7a7a7a" stroke-width="1.2" fill="none"/>
<text x="1863.5" y="116.8" font-family="'Liberation Sans', Arial, sans-serif" font-size="7.6" fill="#666" text-anchor="end" >1</text>
<text x="1863.5" y="190" font-family="'Liberation Sans', Arial, sans-serif" font-size="7.6" fill="#666" text-anchor="end" >0</text>
<text x="1863.5" y="263.2" font-family="'Liberation Sans', Arial, sans-serif" font-size="7.6" fill="#666" text-anchor="end" >-1</text>
<path d="M1864.3 114H1868.3M1864.3 187.2H1868.3M1864.3 260.4H1868.3" stroke="#7a7a7a" stroke-width="1" fill="none"/>
<path d="M1903.5 294.4V297.9M1963.3 294.4V297.9" stroke="#b0b0b0" stroke-width="1" fill="none"/>
<g><text x="1791.6337" y="322" transform="scale(1.056,1)" font-family="'Noto Serif CJK SC', 'Liberation Serif', serif" font-size="27.651" style="font-feature-settings:'hwid' 1" fill="#1a1a1a" >VC</text></g>
<g><text x="1852.3334" y="322" transform="scale(1.056,1)" font-family="'Noto Serif CJK SC', 'Liberation Serif', serif" font-size="27.651" style="font-feature-settings:'hwid' 1" fill="#1a1a1a" >N</text></g>
<text x="1563" y="43.6" font-family="'Liberation Sans', Arial, sans-serif" font-size="30.5" fill="#000" text-anchor="start" >D</text>
<g><text x="1413.464" y="33.2" transform="scale(1.1336,1)" font-family="'Noto Serif CJK SC', 'Liberation Serif', serif" font-size="26.7114" style="font-feature-settings:'hwid' 1" fill="#1a1a1a" >Dimethyl dialkyl ammonium</text></g>
<g><text x="1413.464" y="59.1" transform="scale(1.1336,1)" font-family="'Noto Serif CJK SC', 'Liberation Serif', serif" font-size="26.7114" style="font-feature-settings:'hwid' 1" fill="#1a1a1a" >chloride</text></g>
<g><text x="1399.9839" y="338.8" transform="scale(1.1406,1)" font-family="'Noto Serif CJK SC', 'Liberation Serif', serif" font-size="19.0604" style="font-feature-settings:'hwid' 1" fill="#1a1a1a" >False positive rate</text></g>
<g transform="translate(1543.9,293.1) rotate(-90) scale(1.1332,1)"><text x="0" y="0" font-family="'Noto Serif CJK SC', 'Liberation Serif', serif" font-size="19.0604" style="font-feature-settings:'hwid' 1" fill="#1a1a1a">True positive rate</text></g>
<g><text x="1605.3206 1616.4474 1633.5085 1647.6024 1661.6964" y="276" transform="scale(1.0785,1)" font-family="'Noto Serif CJK SC', 'Liberation Serif', serif" font-size="28.1879" style="font-feature-settings:'hwid' 1" fill="#1a1a1a" >0.940</text></g>
<text x="0" y="0" transform="translate(1561.3,180) rotate(-90)" font-family="'Liberation Sans', Arial, sans-serif" font-size="8.3" fill="#555" text-anchor="middle">True positive rate</text>
<clipPath id="cE"><rect x="55.4" y="437.3" width="244.8" height="234.8"/></clipPath>
<rect x="55.4" y="439.8" width="242.3" height="232.3" fill="#fff"/>
<polygon points="68.6,664 75.79,664 75.79,649.63 82.97,649.63 82.97,469.96 90.16,469.96 90.16,462.77 97.35,462.77 97.35,448.4 284.2,448.4 284.2,664 68.6,664" fill="#dcddfa"/>
<path d="M68.6 439.8V672.1M55.4 664H297.7M90.16 439.8V672.1M55.4 642.44H297.7M111.72 439.8V672.1M55.4 620.88H297.7M133.28 439.8V672.1M55.4 599.32H297.7M154.84 439.8V672.1M55.4 577.76H297.7M176.4 439.8V672.1M55.4 556.2H297.7M197.96 439.8V672.1M55.4 534.64H297.7M219.52 439.8V672.1M55.4 513.08H297.7M241.08 439.8V672.1M55.4 491.52H297.7M262.64 439.8V672.1M55.4 469.96H297.7M284.2 439.8V672.1M55.4 448.4H297.7" stroke="rgba(40,40,90,0.085)" stroke-width="1" fill="none"/>
<g clip-path="url(#cE)"><line x1="25.48" y1="707.12" x2="327.32" y2="405.28" stroke="rgba(100,100,150,0.32)" stroke-width="1.2"/></g>
<path d="M284.2 448.4V664H68.6" stroke="#6a6a7c" stroke-width="1.4" fill="none"/>
<path d="M284.2 641.5V664H218.8" stroke="#3a3a4a" stroke-width="1.6" fill="none"/>
<path d="M68.6 664 L75.79 664 L75.79 649.63 L82.97 649.63 L82.97 469.96 L90.16 469.96 L90.16 462.77 L97.35 462.77 L97.35 448.4 L284.2 448.4" stroke="#1f1f72" stroke-width="1.85" fill="none" stroke-linejoin="miter"/>
<path d="M55.4 439.8V672.1H297.7V439.8" stroke="#585858" stroke-width="1.7" fill="none"/>
<line x1="55.4" y1="439.8" x2="297.7" y2="439.8" stroke="#585858" stroke-width="1.7"/>
<path d="M49.4 664H55.4M68.6 672.1V678.1M49.4 620.88H55.4M111.72 672.1V678.1M49.4 577.76H55.4M154.84 672.1V678.1M49.4 534.64H55.4M197.96 672.1V678.1M49.4 491.52H55.4M241.08 672.1V678.1M49.4 448.4H55.4M284.2 672.1V678.1" stroke="#606060" stroke-width="1.2" fill="none"/>
<text x="68.6" y="692.1" font-family="'Liberation Sans', Arial, sans-serif" font-size="8.2" fill="#3c3c3c" text-anchor="middle" font-weight="bold">0.0</text>
<text x="0" y="0" transform="translate(40.8,664) rotate(-90)" font-family="'Liberation Sans', Arial, sans-serif" font-size="8.2" fill="#3c3c3c" text-anchor="middle" dominant-baseline="central" font-weight="bold">0.0</text>
<text x="111.72" y="692.1" font-family="'Liberation Sans', Arial, sans-serif" font-size="8.2" fill="#3c3c3c" text-anchor="middle" font-weight="bold">0.2</text>
<text x="0" y="0" transform="translate(40.8,620.88) rotate(-90)" font-family="'Liberation Sans', Arial, sans-serif" font-size="8.2" fill="#3c3c3c" text-anchor="middle" dominant-baseline="central" font-weight="bold">0.2</text>
<text x="154.84" y="692.1" font-family="'Liberation Sans', Arial, sans-serif" font-size="8.2" fill="#3c3c3c" text-anchor="middle" font-weight="bold">0.4</text>
<text x="0" y="0" transform="translate(40.8,577.76) rotate(-90)" font-family="'Liberation Sans', Arial, sans-serif" font-size="8.2" fill="#3c3c3c" text-anchor="middle" dominant-baseline="central" font-weight="bold">0.4</text>
<text x="197.96" y="692.1" font-family="'Liberation Sans', Arial, sans-serif" font-size="8.2" fill="#3c3c3c" text-anchor="middle" font-weight="bold">0.6</text>
<text x="0" y="0" transform="translate(40.8,534.64) rotate(-90)" font-family="'Liberation Sans', Arial, sans-serif" font-size="8.2" fill="#3c3c3c" text-anchor="middle" dominant-baseline="central" font-weight="bold">0.6</text>
<text x="241.08" y="692.1" font-family="'Liberation Sans', Arial, sans-serif" font-size="8.2" fill="#3c3c3c" text-anchor="middle" font-weight="bold">0.8</text>
<text x="0" y="0" transform="translate(40.8,491.52) rotate(-90)" font-family="'Liberation Sans', Arial, sans-serif" font-size="8.2" fill="#3c3c3c" text-anchor="middle" dominant-baseline="central" font-weight="bold">0.8</text>
<text x="284.2" y="692.1" font-family="'Liberation Sans', Arial, sans-serif" font-size="8.2" fill="#3c3c3c" text-anchor="middle" font-weight="bold">1.0</text>
<text x="0" y="0" transform="translate(40.8,448.4) rotate(-90)" font-family="'Liberation Sans', Arial, sans-serif" font-size="8.2" fill="#3c3c3c" text-anchor="middle" dominant-baseline="central" font-weight="bold">1.0</text>
<circle cx="82.97" cy="469.96" r="2.6" fill="#e3182b"/>
<text x="86.7" y="477.3" font-family="'Liberation Sans', Arial, sans-serif" font-size="8.4" fill="#262633" text-anchor="start" stroke="#262633" stroke-width="0.2">0.468(0.9, 0.9)</text>
<circle cx="90.16" cy="462.77" r="2.6" fill="#e3182b"/>
<text x="93.6" y="470.4" font-family="'Liberation Sans', Arial, sans-serif" font-size="8.4" fill="#262633" text-anchor="start" stroke="#262633" stroke-width="0.2">0.413(0.9, 0.9)</text>
<text x="176.7" y="561.7" font-family="'Liberation Sans', Arial, sans-serif" font-size="8.5" fill="#2c2c80" text-anchor="start" stroke="#2c2c80" stroke-width="0.1">AUC: 0.931</text>
<text x="176.7" y="572.2" font-family="'Liberation Sans', Arial, sans-serif" font-size="8.5" fill="#2c2c80" text-anchor="start" stroke="#2c2c80" stroke-width="0.1">(0.831-0.999)</text>
<rect x="335.5" y="418.6" width="130.9" height="252.3" fill="#fff"/>
<path d="M335.5 613.8H466.4M335.5 550.7H466.4M335.5 487.6H466.4M335.5 424.5H466.4M370.8 418.6V670.9M431 418.6V670.9" stroke="#ececec" stroke-width="1" fill="none"/>
<path d="M335.5 645.35H466.4M335.5 582.25H466.4M335.5 519.15H466.4M335.5 456.05H466.4" stroke="#f4f4f4" stroke-width="1" fill="none"/>
<path d="M371.15 428.5V475.5M371.15 569.3V658.8" stroke="#505050" stroke-width="1" fill="none"/>
<rect x="348.6" y="475.5" width="45.1" height="93.8" fill="#6262ee" stroke="#333" stroke-width="1"/>
<line x1="348.6" y1="493.1" x2="393.7" y2="493.1" stroke="#2b2b2b" stroke-width="2"/>
<path d="M430.85 432.8V444.9M430.85 454.3V463.5" stroke="#505050" stroke-width="1" fill="none"/>
<rect x="408.4" y="444.9" width="44.9" height="9.4" fill="#fbab23" stroke="#333" stroke-width="1"/>
<line x1="408.4" y1="449.9" x2="453.3" y2="449.9" stroke="#2b2b2b" stroke-width="2"/>
<g fill="#000"><circle cx="380.9" cy="429.6" r="1.65"/><circle cx="367" cy="437.2" r="1.65"/><circle cx="372.6" cy="463.4" r="1.65"/><circle cx="394.6" cy="458.2" r="1.65"/><circle cx="348.9" cy="472.8" r="1.65"/><circle cx="355.1" cy="471.9" r="1.65"/><circle cx="359.2" cy="473.3" r="1.65"/><circle cx="351.6" cy="477.3" r="1.65"/><circle cx="372.6" cy="477.6" r="1.65"/><circle cx="379.1" cy="474.6" r="1.65"/><circle cx="393.4" cy="477.6" r="1.65"/><circle cx="382.7" cy="482.9" r="1.65"/><circle cx="385" cy="486.1" r="1.65"/><circle cx="374.7" cy="488.3" r="1.65"/><circle cx="380" cy="497.2" r="1.65"/><circle cx="374.3" cy="507.5" r="1.65"/><circle cx="371.5" cy="510.5" r="1.65"/><circle cx="364.4" cy="515.5" r="1.65"/><circle cx="352.1" cy="529.2" r="1.65"/><circle cx="372" cy="561.9" r="1.65"/><circle cx="371.1" cy="565.8" r="1.65"/><circle cx="350.7" cy="570.6" r="1.65"/><circle cx="350.7" cy="577.7" r="1.65"/><circle cx="380" cy="632" r="1.65"/><circle cx="358.3" cy="636.6" r="1.65"/><circle cx="361.3" cy="640.9" r="1.65"/><circle cx="371.5" cy="645.8" r="1.65"/><circle cx="369.4" cy="658.3" r="1.65"/><circle cx="369.7" cy="659.5" r="1.65"/><circle cx="407.6" cy="435.8" r="1.65"/><circle cx="430.7" cy="435.8" r="1.65"/><circle cx="424.5" cy="439.5" r="1.65"/><circle cx="427.2" cy="440.8" r="1.65"/><circle cx="428.1" cy="438.1" r="1.65"/><circle cx="411.2" cy="444.7" r="1.65"/><circle cx="427.2" cy="444.3" r="1.65"/><circle cx="436.9" cy="445.8" r="1.65"/><circle cx="444.9" cy="444.9" r="1.65"/><circle cx="408.5" cy="449.7" r="1.65"/><circle cx="421.8" cy="448.4" r="1.65"/><circle cx="431.6" cy="449.2" r="1.65"/><circle cx="435.2" cy="450.6" r="1.65"/><circle cx="449.4" cy="450.2" r="1.65"/><circle cx="452.1" cy="451.1" r="1.65"/><circle cx="418.3" cy="453.2" r="1.65"/><circle cx="433.4" cy="453.2" r="1.65"/><circle cx="417.9" cy="456.3" r="1.65"/><circle cx="408.1" cy="457.2" r="1.65"/><circle cx="430.4" cy="457.2" r="1.65"/><circle cx="423.1" cy="458.9" r="1.65"/><circle cx="438.4" cy="463.9" r="1.65"/><circle cx="408.1" cy="469.6" r="1.65"/></g>
<circle cx="370.7" cy="525.2" r="2.4" fill="#b0102c"/>
<circle cx="431" cy="450" r="2.4" fill="#b0102c"/>
<line x1="335.5" y1="470.7" x2="466.4" y2="470.7" stroke="#b98890" stroke-width="1.6"/>
<path d="M335.5 418.6H466.4V670.9H335.5Z" stroke="#7a7a7a" stroke-width="1.2" fill="none"/>
<text x="330.7" y="427.3" font-family="'Liberation Sans', Arial, sans-serif" font-size="7.6" fill="#666" text-anchor="end" >1</text>
<text x="330.7" y="490.4" font-family="'Liberation Sans', Arial, sans-serif" font-size="7.6" fill="#666" text-anchor="end" >0</text>
<text x="330.7" y="553.5" font-family="'Liberation Sans', Arial, sans-serif" font-size="7.6" fill="#666" text-anchor="end" >-1</text>
<text x="330.7" y="616.6" font-family="'Liberation Sans', Arial, sans-serif" font-size="7.6" fill="#666" text-anchor="end" >-2</text>
<path d="M331.5 424.5H335.5M331.5 487.6H335.5M331.5 550.7H335.5M331.5 613.8H335.5" stroke="#7a7a7a" stroke-width="1" fill="none"/>
<path d="M370.8 670.9V674.4M431 670.9V674.4" stroke="#b0b0b0" stroke-width="1" fill="none"/>
<g><text x="339.4824" y="702" transform="scale(1.056,1)" font-family="'Noto Serif CJK SC', 'Liberation Serif', serif" font-size="27.651" style="font-feature-settings:'hwid' 1" fill="#1a1a1a" >VC</text></g>
<g><text x="400.3714" y="702" transform="scale(1.056,1)" font-family="'Noto Serif CJK SC', 'Liberation Serif', serif" font-size="27.651" style="font-feature-settings:'hwid' 1" fill="#1a1a1a" >N</text></g>
<text x="28.8" y="422.8" font-family="'Liberation Sans', Arial, sans-serif" font-size="30.5" fill="#000" text-anchor="start" >E</text>
<g><text x="76.7953" y="414.5" transform="scale(1.1381,1)" font-family="'Noto Serif CJK SC', 'Liberation Serif', serif" font-size="26.7114" style="font-feature-settings:'hwid' 1" fill="#1a1a1a" >L-Acetylcarnitine</text></g>
<g><text x="57.8651" y="714" transform="scale(1.1406,1)" font-family="'Noto Serif CJK SC', 'Liberation Serif', serif" font-size="19.0604" style="font-feature-settings:'hwid' 1" fill="#1a1a1a" >False positive rate</text></g>
<g transform="translate(25.6,669.4) rotate(-90) scale(1.1332,1)"><text x="0" y="0" font-family="'Noto Serif CJK SC', 'Liberation Serif', serif" font-size="19.0604" style="font-feature-settings:'hwid' 1" fill="#1a1a1a">True positive rate</text></g>
<g><text x="181.9233 193.0502 210.1113 224.2052 238.2992" y="651.9" transform="scale(1.0785,1)" font-family="'Noto Serif CJK SC', 'Liberation Serif', serif" font-size="28.1879" style="font-feature-settings:'hwid' 1" fill="#1a1a1a" >0.931</text></g>
<clipPath id="cF"><rect x="556.1" y="437.3" width="244.4" height="234.8"/></clipPath>
<rect x="556.1" y="439.8" width="241.9" height="232.3" fill="#fff"/>
<polygon points="569.1,664 569.1,570.57 576.27,570.57 576.27,541.83 583.44,541.83 583.44,520.27 597.78,520.27 597.78,469.96 633.63,469.96 633.63,462.77 647.97,462.77 647.97,455.59 690.99,455.59 690.99,448.4 784.2,448.4 784.2,664 569.1,664" fill="#dcddfa"/>
<path d="M569.1 439.8V672.1M556.1 664H798M590.61 439.8V672.1M556.1 642.44H798M612.12 439.8V672.1M556.1 620.88H798M633.63 439.8V672.1M556.1 599.32H798M655.14 439.8V672.1M556.1 577.76H798M676.65 439.8V672.1M556.1 556.2H798M698.16 439.8V672.1M556.1 534.64H798M719.67 439.8V672.1M556.1 513.08H798M741.18 439.8V672.1M556.1 491.52H798M762.69 439.8V672.1M556.1 469.96H798M784.2 439.8V672.1M556.1 448.4H798" stroke="rgba(40,40,90,0.085)" stroke-width="1" fill="none"/>
<g clip-path="url(#cF)"><line x1="526.08" y1="707.12" x2="827.22" y2="405.28" stroke="rgba(100,100,150,0.32)" stroke-width="1.2"/></g>
<path d="M784.2 448.4V664H569.1" stroke="#6a6a7c" stroke-width="1.4" fill="none"/>
<path d="M569.1 664 L569.1 570.57 L576.27 570.57 L576.27 541.83 L583.44 541.83 L583.44 520.27 L597.78 520.27 L597.78 469.96 L633.63 469.96 L633.63 462.77 L647.97 462.77 L647.97 455.59 L690.99 455.59 L690.99 448.4 L784.2 448.4" stroke="#1f1f72" stroke-width="1.85" fill="none" stroke-linejoin="miter"/>
<path d="M556.1 439.8V672.1H798V439.8" stroke="#585858" stroke-width="1.7" fill="none"/>
<line x1="556.1" y1="439.8" x2="705.3" y2="439.8" stroke="#585858" stroke-width="1.7"/>
<line x1="742.2" y1="439.8" x2="798" y2="439.8" stroke="#585858" stroke-width="1.7"/>
<path d="M550.1 664H556.1M569.1 672.1V678.1M550.1 620.88H556.1M612.12 672.1V678.1M550.1 577.76H556.1M655.14 672.1V678.1M550.1 534.64H556.1M698.16 672.1V678.1M550.1 491.52H556.1M741.18 672.1V678.1M550.1 448.4H556.1M784.2 672.1V678.1" stroke="#606060" stroke-width="1.2" fill="none"/>
<text x="569.1" y="692.1" font-family="'Liberation Sans', Arial, sans-serif" font-size="8.2" fill="#3c3c3c" text-anchor="middle" font-weight="bold">0.0</text>
<text x="0" y="0" transform="translate(541.5,664) rotate(-90)" font-family="'Liberation Sans', Arial, sans-serif" font-size="8.2" fill="#3c3c3c" text-anchor="middle" dominant-baseline="central" font-weight="bold">0.0</text>
<text x="612.12" y="692.1" font-family="'Liberation Sans', Arial, sans-serif" font-size="8.2" fill="#3c3c3c" text-anchor="middle" font-weight="bold">0.2</text>
<text x="0" y="0" transform="translate(541.5,620.88) rotate(-90)" font-family="'Liberation Sans', Arial, sans-serif" font-size="8.2" fill="#3c3c3c" text-anchor="middle" dominant-baseline="central" font-weight="bold">0.2</text>
<text x="655.14" y="692.1" font-family="'Liberation Sans', Arial, sans-serif" font-size="8.2" fill="#3c3c3c" text-anchor="middle" font-weight="bold">0.4</text>
<text x="0" y="0" transform="translate(541.5,577.76) rotate(-90)" font-family="'Liberation Sans', Arial, sans-serif" font-size="8.2" fill="#3c3c3c" text-anchor="middle" dominant-baseline="central" font-weight="bold">0.4</text>
<text x="698.16" y="692.1" font-family="'Liberation Sans', Arial, sans-serif" font-size="8.2" fill="#3c3c3c" text-anchor="middle" font-weight="bold">0.6</text>
<text x="0" y="0" transform="translate(541.5,534.64) rotate(-90)" font-family="'Liberation Sans', Arial, sans-serif" font-size="8.2" fill="#3c3c3c" text-anchor="middle" dominant-baseline="central" font-weight="bold">0.6</text>
<text x="741.18" y="692.1" font-family="'Liberation Sans', Arial, sans-serif" font-size="8.2" fill="#3c3c3c" text-anchor="middle" font-weight="bold">0.8</text>
<text x="0" y="0" transform="translate(541.5,491.52) rotate(-90)" font-family="'Liberation Sans', Arial, sans-serif" font-size="8.2" fill="#3c3c3c" text-anchor="middle" dominant-baseline="central" font-weight="bold">0.8</text>
<text x="784.2" y="692.1" font-family="'Liberation Sans', Arial, sans-serif" font-size="8.2" fill="#3c3c3c" text-anchor="middle" font-weight="bold">1.0</text>
<text x="0" y="0" transform="translate(541.5,448.4) rotate(-90)" font-family="'Liberation Sans', Arial, sans-serif" font-size="8.2" fill="#3c3c3c" text-anchor="middle" dominant-baseline="central" font-weight="bold">1.0</text>
<circle cx="597.78" cy="469.96" r="2.6" fill="#e3182b"/>
<text x="601.2" y="477.9" font-family="'Liberation Sans', Arial, sans-serif" font-size="8.4" fill="#262633" text-anchor="start" stroke="#262633" stroke-width="0.2">0.075(0.9, 0.9)</text>
<text x="676.95" y="561.7" font-family="'Liberation Sans', Arial, sans-serif" font-size="8.5" fill="#2c2c80" text-anchor="start" stroke="#2c2c80" stroke-width="0.1">AUC: 0.916</text>
<text x="676.95" y="572.2" font-family="'Liberation Sans', Arial, sans-serif" font-size="8.5" fill="#2c2c80" text-anchor="start" stroke="#2c2c80" stroke-width="0.1">(0.83-0.976)</text>
<rect x="836.5" y="418.3" width="130.3" height="252.7" fill="#fff"/>
<path d="M836.5 619.4H966.8M836.5 567.8H966.8M836.5 516.2H966.8M836.5 464.6H966.8M871.5 418.3V671M931.1 418.3V671" stroke="#ececec" stroke-width="1" fill="none"/>
<path d="M836.5 645.2H966.8M836.5 593.6H966.8M836.5 542H966.8M836.5 490.4H966.8M836.5 438.8H966.8" stroke="#f4f4f4" stroke-width="1" fill="none"/>
<path d="M871.65 429.7V446.8M871.65 509.6V550.1" stroke="#505050" stroke-width="1" fill="none"/>
<rect x="849" y="446.8" width="45.3" height="62.8" fill="#6262ee" stroke="#333" stroke-width="1"/>
<line x1="849" y1="480.5" x2="894.3" y2="480.5" stroke="#2b2b2b" stroke-width="2"/>
<path d="M931.45 467.4V524.3M931.45 581.9V659.6" stroke="#505050" stroke-width="1" fill="none"/>
<rect x="909" y="524.3" width="44.9" height="57.6" fill="#fbab23" stroke="#333" stroke-width="1"/>
<line x1="909" y1="545.8" x2="953.9" y2="545.8" stroke="#2b2b2b" stroke-width="2"/>
<g fill="#000"><circle cx="865.8" cy="429.6" r="1.65"/><circle cx="850.7" cy="442.6" r="1.65"/><circle cx="854.8" cy="442" r="1.65"/><circle cx="854.2" cy="445.2" r="1.65"/><circle cx="859.2" cy="444.3" r="1.65"/><circle cx="862.8" cy="446.7" r="1.65"/><circle cx="876.5" cy="447" r="1.65"/><circle cx="886.3" cy="442.2" r="1.65"/><circle cx="895.1" cy="442.6" r="1.65"/><circle cx="879.7" cy="456.8" r="1.65"/><circle cx="884.5" cy="459.5" r="1.65"/><circle cx="891.6" cy="461.2" r="1.65"/><circle cx="867.2" cy="464.4" r="1.65"/><circle cx="856.9" cy="478.1" r="1.65"/><circle cx="860.5" cy="478.7" r="1.65"/><circle cx="848.9" cy="484.4" r="1.65"/><circle cx="854.2" cy="484.4" r="1.65"/><circle cx="894.8" cy="485.8" r="1.65"/><circle cx="872.6" cy="496.5" r="1.65"/><circle cx="862.6" cy="504.8" r="1.65"/><circle cx="865.8" cy="509.8" r="1.65"/><circle cx="869.9" cy="509.8" r="1.65"/><circle cx="885.9" cy="510.7" r="1.65"/><circle cx="890.7" cy="509.3" r="1.65"/><circle cx="851.2" cy="529.7" r="1.65"/><circle cx="882.3" cy="534.7" r="1.65"/><circle cx="888.4" cy="537.4" r="1.65"/><circle cx="893.4" cy="550.1" r="1.65"/><circle cx="922.4" cy="466.6" r="1.65"/><circle cx="932.9" cy="491.5" r="1.65"/><circle cx="917.4" cy="509.3" r="1.65"/><circle cx="946.2" cy="513.4" r="1.65"/><circle cx="942.8" cy="518.2" r="1.65"/><circle cx="942.3" cy="521.4" r="1.65"/><circle cx="944.4" cy="523" r="1.65"/><circle cx="917.4" cy="523.9" r="1.65"/><circle cx="923.6" cy="525.3" r="1.65"/><circle cx="934.6" cy="528" r="1.65"/><circle cx="913.5" cy="537.4" r="1.65"/><circle cx="918.6" cy="536.3" r="1.65"/><circle cx="928.9" cy="539" r="1.65"/><circle cx="943.2" cy="536.8" r="1.65"/><circle cx="934.8" cy="545.9" r="1.65"/><circle cx="940.5" cy="545" r="1.65"/><circle cx="945.8" cy="546.2" r="1.65"/><circle cx="946.7" cy="551" r="1.65"/><circle cx="908.8" cy="555.1" r="1.65"/><circle cx="940" cy="564.9" r="1.65"/><circle cx="925.4" cy="570.2" r="1.65"/><circle cx="924.5" cy="574.3" r="1.65"/><circle cx="916.1" cy="584.5" r="1.65"/><circle cx="950.3" cy="586.2" r="1.65"/><circle cx="943.7" cy="593.4" r="1.65"/><circle cx="953.5" cy="595.5" r="1.65"/><circle cx="921.3" cy="596.9" r="1.65"/><circle cx="910.8" cy="603.5" r="1.65"/><circle cx="908.5" cy="616.1" r="1.65"/><circle cx="928.9" cy="659.7" r="1.65"/></g>
<circle cx="871.3" cy="481.2" r="2.4" fill="#b0102c"/>
<circle cx="931.1" cy="552.3" r="2.4" fill="#b0102c"/>
<line x1="836.5" y1="512.3" x2="966.8" y2="512.3" stroke="#d6606e" stroke-width="1.8"/>
<path d="M836.5 423.1V671H966.8V418.3H878.3" stroke="#7a7a7a" stroke-width="1.2" fill="none"/>
<text x="831.7" y="467.4" font-family="'Liberation Sans', Arial, sans-serif" font-size="7.6" fill="#666" text-anchor="end" >1</text>
<text x="831.7" y="519" font-family="'Liberation Sans', Arial, sans-serif" font-size="7.6" fill="#666" text-anchor="end" >0</text>
<text x="831.7" y="570.6" font-family="'Liberation Sans', Arial, sans-serif" font-size="7.6" fill="#666" text-anchor="end" >-1</text>
<text x="831.7" y="622.2" font-family="'Liberation Sans', Arial, sans-serif" font-size="7.6" fill="#666" text-anchor="end" >-2</text>
<path d="M832.5 464.6H836.5M832.5 516.2H836.5M832.5 567.8H836.5M832.5 619.4H836.5" stroke="#7a7a7a" stroke-width="1" fill="none"/>
<path d="M871.5 671V674.5M931.1 671V674.5" stroke="#b0b0b0" stroke-width="1" fill="none"/>
<g><text x="812.2957" y="699.2" transform="scale(1.056,1)" font-family="'Noto Serif CJK SC', 'Liberation Serif', serif" font-size="27.651" style="font-feature-settings:'hwid' 1" fill="#1a1a1a" >VC</text></g>
<g><text x="874.321" y="699.2" transform="scale(1.056,1)" font-family="'Noto Serif CJK SC', 'Liberation Serif', serif" font-size="27.651" style="font-feature-settings:'hwid' 1" fill="#1a1a1a" >N</text></g>
<text x="529.4" y="423.5" font-family="'Liberation Sans', Arial, sans-serif" font-size="30.5" fill="#000" text-anchor="start" >F</text>
<g><text x="512.8344" y="388.2" transform="scale(1.1358,1)" font-family="'Noto Serif CJK SC', 'Liberation Serif', serif" font-size="26.7114" style="font-feature-settings:'hwid' 1" fill="#1a1a1a" >Na-Hexanoyl-Nb-</text></g>
<g><text x="511.6018" y="416.1" transform="scale(1.1358,1)" font-family="'Noto Serif CJK SC', 'Liberation Serif', serif" font-size="26.7114" style="font-feature-settings:'hwid' 1" fill="#1a1a1a" >inosityltryptophan</text></g>
<g><text x="495.5354" y="714" transform="scale(1.1406,1)" font-family="'Noto Serif CJK SC', 'Liberation Serif', serif" font-size="19.0604" style="font-feature-settings:'hwid' 1" fill="#1a1a1a" >False positive rate</text></g>
<g transform="translate(526.8,668.5) rotate(-90) scale(1.1332,1)"><text x="0" y="0" font-family="'Noto Serif CJK SC', 'Liberation Serif', serif" font-size="19.0604" style="font-feature-settings:'hwid' 1" fill="#1a1a1a">True positive rate</text></g>
<g><text x="651.7529 662.8797 679.9408 694.0348 708.1288" y="653.5" transform="scale(1.0785,1)" font-family="'Noto Serif CJK SC', 'Liberation Serif', serif" font-size="28.1879" style="font-feature-settings:'hwid' 1" fill="#1a1a1a" >0.916</text></g>
<clipPath id="cG"><rect x="1071.6" y="437.3" width="244.9" height="234.8"/></clipPath>
<rect x="1071.6" y="439.8" width="242.4" height="232.3" fill="#fff"/>
<polygon points="1084.9,664 1084.9,656.81 1092.09,656.81 1092.09,541.83 1099.29,541.83 1099.29,513.08 1106.48,513.08 1106.48,484.33 1135.25,484.33 1135.25,477.15 1142.45,477.15 1142.45,462.77 1156.83,462.77 1156.83,455.59 1185.61,455.59 1185.61,448.4 1300.7,448.4 1300.7,664 1084.9,664" fill="#dcddfa"/>
<path d="M1084.9 439.8V672.1M1071.6 664H1314M1106.48 439.8V672.1M1071.6 642.44H1314M1128.06 439.8V672.1M1071.6 620.88H1314M1149.64 439.8V672.1M1071.6 599.32H1314M1171.22 439.8V672.1M1071.6 577.76H1314M1192.8 439.8V672.1M1071.6 556.2H1314M1214.38 439.8V672.1M1071.6 534.64H1314M1235.96 439.8V672.1M1071.6 513.08H1314M1257.54 439.8V672.1M1071.6 491.52H1314M1279.12 439.8V672.1M1071.6 469.96H1314M1300.7 439.8V672.1M1071.6 448.4H1314" stroke="rgba(40,40,90,0.085)" stroke-width="1" fill="none"/>
<g clip-path="url(#cG)"><line x1="1041.74" y1="707.12" x2="1343.86" y2="405.28" stroke="rgba(100,100,150,0.32)" stroke-width="1.2"/></g>
<path d="M1300.7 448.4V664H1084.9" stroke="#6a6a7c" stroke-width="1.4" fill="none"/>
<path d="M1300.7 664V664H1234.7" stroke="#3a3a4a" stroke-width="1.6" fill="none"/>
<path d="M1084.9 664 L1084.9 656.81 L1092.09 656.81 L1092.09 541.83 L1099.29 541.83 L1099.29 513.08 L1106.48 513.08 L1106.48 484.33 L1135.25 484.33 L1135.25 477.15 L1142.45 477.15 L1142.45 462.77 L1156.83 462.77 L1156.83 455.59 L1185.61 455.59 L1185.61 448.4 L1300.7 448.4" stroke="#1f1f72" stroke-width="1.85" fill="none" stroke-linejoin="miter"/>
<path d="M1071.6 439.8V672.1H1314V439.8" stroke="#585858" stroke-width="1.7" fill="none"/>
<line x1="1071.6" y1="439.8" x2="1171.5" y2="439.8" stroke="#585858" stroke-width="1.7"/>
<line x1="1207" y1="439.8" x2="1314" y2="439.8" stroke="#585858" stroke-width="1.7"/>
<path d="M1065.6 664H1071.6M1084.9 672.1V678.1M1065.6 620.88H1071.6M1128.06 672.1V678.1M1065.6 577.76H1071.6M1171.22 672.1V678.1M1065.6 534.64H1071.6M1214.38 672.1V678.1M1065.6 491.52H1071.6M1257.54 672.1V678.1M1065.6 448.4H1071.6M1300.7 672.1V678.1" stroke="#606060" stroke-width="1.2" fill="none"/>
<text x="1084.9" y="692.1" font-family="'Liberation Sans', Arial, sans-serif" font-size="8.2" fill="#3c3c3c" text-anchor="middle" font-weight="bold">0.0</text>
<text x="0" y="0" transform="translate(1057,664) rotate(-90)" font-family="'Liberation Sans', Arial, sans-serif" font-size="8.2" fill="#3c3c3c" text-anchor="middle" dominant-baseline="central" font-weight="bold">0.0</text>
<text x="1128.06" y="692.1" font-family="'Liberation Sans', Arial, sans-serif" font-size="8.2" fill="#3c3c3c" text-anchor="middle" font-weight="bold">0.2</text>
<text x="0" y="0" transform="translate(1057,620.88) rotate(-90)" font-family="'Liberation Sans', Arial, sans-serif" font-size="8.2" fill="#3c3c3c" text-anchor="middle" dominant-baseline="central" font-weight="bold">0.2</text>
<text x="1171.22" y="692.1" font-family="'Liberation Sans', Arial, sans-serif" font-size="8.2" fill="#3c3c3c" text-anchor="middle" font-weight="bold">0.4</text>
<text x="0" y="0" transform="translate(1057,577.76) rotate(-90)" font-family="'Liberation Sans', Arial, sans-serif" font-size="8.2" fill="#3c3c3c" text-anchor="middle" dominant-baseline="central" font-weight="bold">0.4</text>
<text x="1214.38" y="692.1" font-family="'Liberation Sans', Arial, sans-serif" font-size="8.2" fill="#3c3c3c" text-anchor="middle" font-weight="bold">0.6</text>
<text x="0" y="0" transform="translate(1057,534.64) rotate(-90)" font-family="'Liberation Sans', Arial, sans-serif" font-size="8.2" fill="#3c3c3c" text-anchor="middle" dominant-baseline="central" font-weight="bold">0.6</text>
<text x="1257.54" y="692.1" font-family="'Liberation Sans', Arial, sans-serif" font-size="8.2" fill="#3c3c3c" text-anchor="middle" font-weight="bold">0.8</text>
<text x="0" y="0" transform="translate(1057,491.52) rotate(-90)" font-family="'Liberation Sans', Arial, sans-serif" font-size="8.2" fill="#3c3c3c" text-anchor="middle" dominant-baseline="central" font-weight="bold">0.8</text>
<text x="1300.7" y="692.1" font-family="'Liberation Sans', Arial, sans-serif" font-size="8.2" fill="#3c3c3c" text-anchor="middle" font-weight="bold">1.0</text>
<text x="0" y="0" transform="translate(1057,448.4) rotate(-90)" font-family="'Liberation Sans', Arial, sans-serif" font-size="8.2" fill="#3c3c3c" text-anchor="middle" dominant-baseline="central" font-weight="bold">1.0</text>
<circle cx="1106.48" cy="484.33" r="2.6" fill="#e3182b"/>
<text x="1110.4" y="492" font-family="'Liberation Sans', Arial, sans-serif" font-size="8.4" fill="#262633" text-anchor="start" stroke="#262633" stroke-width="0.2">-0.0327(0.9, 0.8)</text>
<text x="1193.1" y="561.7" font-family="'Liberation Sans', Arial, sans-serif" font-size="8.5" fill="#2c2c80" text-anchor="start" stroke="#2c2c80" stroke-width="0.1">AUC: 0.912</text>
<text x="1193.1" y="572.2" font-family="'Liberation Sans', Arial, sans-serif" font-size="8.5" fill="#2c2c80" text-anchor="start" stroke="#2c2c80" stroke-width="0.1">(0.819-0.975)</text>
<rect x="1351.5" y="418.6" width="130.9" height="252.3" fill="#fff"/>
<path d="M1351.5 640.4H1482.4M1351.5 596H1482.4M1351.5 551.6H1482.4M1351.5 507.2H1482.4M1351.5 462.8H1482.4M1387.2 418.6V670.9M1447.4 418.6V670.9" stroke="#ececec" stroke-width="1" fill="none"/>
<path d="M1351.5 662.6H1482.4M1351.5 618.2H1482.4M1351.5 573.8H1482.4M1351.5 529.4H1482.4M1351.5 485H1482.4M1351.5 440.6H1482.4" stroke="#f4f4f4" stroke-width="1" fill="none"/>
<path d="M1387.45 429.5V461.9M1387.45 500.2V518.2" stroke="#505050" stroke-width="1" fill="none"/>
<rect x="1365" y="461.9" width="44.9" height="38.3" fill="#6262ee" stroke="#333" stroke-width="1"/>
<line x1="1365" y1="477.7" x2="1409.9" y2="477.7" stroke="#2b2b2b" stroke-width="2"/>
<path d="M1447.05 481V510.9M1447.05 550.3V588.4" stroke="#505050" stroke-width="1" fill="none"/>
<rect x="1424.5" y="510.9" width="45.1" height="39.4" fill="#fbab23" stroke="#333" stroke-width="1"/>
<line x1="1424.5" y1="520.4" x2="1469.6" y2="520.4" stroke="#2b2b2b" stroke-width="2"/>
<g fill="#000"><circle cx="1365.3" cy="433.1" r="1.65"/><circle cx="1394.2" cy="429.2" r="1.65"/><circle cx="1403.5" cy="437.2" r="1.65"/><circle cx="1410.8" cy="439.9" r="1.65"/><circle cx="1391.6" cy="455.4" r="1.65"/><circle cx="1383.6" cy="461.6" r="1.65"/><circle cx="1396" cy="461.6" r="1.65"/><circle cx="1400.8" cy="460.9" r="1.65"/><circle cx="1403.7" cy="460.9" r="1.65"/><circle cx="1409.9" cy="467.5" r="1.65"/><circle cx="1369.7" cy="469.8" r="1.65"/><circle cx="1398.3" cy="472.3" r="1.65"/><circle cx="1404.9" cy="475" r="1.65"/><circle cx="1374.3" cy="476.4" r="1.65"/><circle cx="1375.2" cy="478.5" r="1.65"/><circle cx="1391.2" cy="481.2" r="1.65"/><circle cx="1396.9" cy="481.7" r="1.65"/><circle cx="1394.2" cy="486.5" r="1.65"/><circle cx="1400.1" cy="485.8" r="1.65"/><circle cx="1384.5" cy="492.4" r="1.65"/><circle cx="1385.9" cy="495" r="1.65"/><circle cx="1388" cy="501.6" r="1.65"/><circle cx="1367.2" cy="503.4" r="1.65"/><circle cx="1383.2" cy="503.9" r="1.65"/><circle cx="1370.8" cy="506.6" r="1.65"/><circle cx="1400.1" cy="507.5" r="1.65"/><circle cx="1402.3" cy="512.5" r="1.65"/><circle cx="1371.5" cy="518.2" r="1.65"/><circle cx="1394.6" cy="652.1" r="1.65"/><circle cx="1443.5" cy="480.3" r="1.65"/><circle cx="1465.9" cy="489.4" r="1.65"/><circle cx="1458.3" cy="496.8" r="1.65"/><circle cx="1458.6" cy="499" r="1.65"/><circle cx="1435.2" cy="503" r="1.65"/><circle cx="1424.1" cy="510.2" r="1.65"/><circle cx="1427.2" cy="510.2" r="1.65"/><circle cx="1433" cy="510.2" r="1.65"/><circle cx="1425" cy="516.4" r="1.65"/><circle cx="1439.2" cy="516.9" r="1.65"/><circle cx="1444.1" cy="517.6" r="1.65"/><circle cx="1444.9" cy="520" r="1.65"/><circle cx="1446.4" cy="521.4" r="1.65"/><circle cx="1458.6" cy="522.6" r="1.65"/><circle cx="1435.2" cy="533.8" r="1.65"/><circle cx="1448.9" cy="532.4" r="1.65"/><circle cx="1460.9" cy="533.3" r="1.65"/><circle cx="1460.6" cy="541.6" r="1.65"/><circle cx="1449.4" cy="544.5" r="1.65"/><circle cx="1469.8" cy="551.6" r="1.65"/><circle cx="1447.6" cy="554.2" r="1.65"/><circle cx="1454.4" cy="558.1" r="1.65"/><circle cx="1460.1" cy="556.5" r="1.65"/><circle cx="1469.5" cy="556.5" r="1.65"/><circle cx="1454.4" cy="574.3" r="1.65"/><circle cx="1444.1" cy="589.3" r="1.65"/><circle cx="1453.8" cy="659.7" r="1.65"/></g>
<circle cx="1387.5" cy="482.7" r="2.4" fill="#b0102c"/>
<circle cx="1447.5" cy="531.3" r="2.4" fill="#b0102c"/>
<line x1="1351.5" y1="508.3" x2="1482.4" y2="508.3" stroke="#d8808e" stroke-width="1.6"/>
<path d="M1351.5 418.6H1482.4V670.9H1351.5Z" stroke="#7a7a7a" stroke-width="1.2" fill="none"/>
<text x="1346.7" y="421.2" font-family="'Liberation Sans', Arial, sans-serif" font-size="7.6" fill="#666" text-anchor="end" >2</text>
<text x="1346.7" y="465.6" font-family="'Liberation Sans', Arial, sans-serif" font-size="7.6" fill="#666" text-anchor="end" >1</text>
<text x="1346.7" y="510" font-family="'Liberation Sans', Arial, sans-serif" font-size="7.6" fill="#666" text-anchor="end" >0</text>
<text x="1346.7" y="554.4" font-family="'Liberation Sans', Arial, sans-serif" font-size="7.6" fill="#666" text-anchor="end" >-1</text>
<text x="1346.7" y="598.8" font-family="'Liberation Sans', Arial, sans-serif" font-size="7.6" fill="#666" text-anchor="end" >-2</text>
<text x="1346.7" y="643.2" font-family="'Liberation Sans', Arial, sans-serif" font-size="7.6" fill="#666" text-anchor="end" >-3</text>
<path d="M1347.5 418.4H1351.5M1347.5 462.8H1351.5M1347.5 507.2H1351.5M1347.5 551.6H1351.5M1347.5 596H1351.5M1347.5 640.4H1351.5" stroke="#7a7a7a" stroke-width="1" fill="none"/>
<path d="M1387.2 670.9V674.4M1447.4 670.9V674.4" stroke="#b0b0b0" stroke-width="1" fill="none"/>
<g><text x="1302.7223" y="698.5" transform="scale(1.056,1)" font-family="'Noto Serif CJK SC', 'Liberation Serif', serif" font-size="27.651" style="font-feature-settings:'hwid' 1" fill="#1a1a1a" >VC</text></g>
<g><text x="1364.5582" y="698.5" transform="scale(1.056,1)" font-family="'Noto Serif CJK SC', 'Liberation Serif', serif" font-size="27.651" style="font-feature-settings:'hwid' 1" fill="#1a1a1a" >N</text></g>
<text x="1046" y="422.3" font-family="'Liberation Sans', Arial, sans-serif" font-size="30.5" fill="#000" text-anchor="start" >G</text>
<g><text x="963.2989" y="411" transform="scale(1.1373,1)" font-family="'Noto Serif CJK SC', 'Liberation Serif', serif" font-size="26.7114" style="font-feature-settings:'hwid' 1" fill="#1a1a1a" >Sodium glycocholate</text></g>
<g><text x="947.8473" y="717.4" transform="scale(1.1406,1)" font-family="'Noto Serif CJK SC', 'Liberation Serif', serif" font-size="19.0604" style="font-feature-settings:'hwid' 1" fill="#1a1a1a" >False positive rate</text></g>
<g transform="translate(1044.2,669.4) rotate(-90) scale(1.1332,1)"><text x="0" y="0" font-family="'Noto Serif CJK SC', 'Liberation Serif', serif" font-size="19.0604" style="font-feature-settings:'hwid' 1" fill="#1a1a1a">True positive rate</text></g>
<g><text x="1127.7949 1138.9218 1155.9829 1170.0768 1184.1708" y="652.3" transform="scale(1.0785,1)" font-family="'Noto Serif CJK SC', 'Liberation Serif', serif" font-size="28.1879" style="font-feature-settings:'hwid' 1" fill="#1a1a1a" >0.912</text></g>
<clipPath id="cH"><rect x="1587.9" y="437.3" width="244.6" height="234.8"/></clipPath>
<rect x="1587.9" y="439.8" width="242.1" height="232.3" fill="#fff"/>
<polygon points="1601.4,664 1601.4,635.25 1608.57,635.25 1608.57,527.45 1615.74,527.45 1615.74,513.08 1630.08,513.08 1630.08,498.71 1637.25,498.71 1637.25,484.33 1658.76,484.33 1658.76,469.96 1673.1,469.96 1673.1,455.59 1687.44,455.59 1687.44,448.4 1816.5,448.4 1816.5,664 1601.4,664" fill="#dcddfa"/>
<path d="M1601.4 439.8V672.1M1587.9 664H1830M1622.91 439.8V672.1M1587.9 642.44H1830M1644.42 439.8V672.1M1587.9 620.88H1830M1665.93 439.8V672.1M1587.9 599.32H1830M1687.44 439.8V672.1M1587.9 577.76H1830M1708.95 439.8V672.1M1587.9 556.2H1830M1730.46 439.8V672.1M1587.9 534.64H1830M1751.97 439.8V672.1M1587.9 513.08H1830M1773.48 439.8V672.1M1587.9 491.52H1830M1794.99 439.8V672.1M1587.9 469.96H1830M1816.5 439.8V672.1M1587.9 448.4H1830" stroke="rgba(40,40,90,0.085)" stroke-width="1" fill="none"/>
<g clip-path="url(#cH)"><line x1="1558.38" y1="707.12" x2="1859.52" y2="405.28" stroke="rgba(100,100,150,0.32)" stroke-width="1.2"/></g>
<path d="M1816.5 448.4V664H1601.4" stroke="#6a6a7c" stroke-width="1.4" fill="none"/>
<path d="M1816.5 620.2V664H1751.7" stroke="#3a3a4a" stroke-width="1.6" fill="none"/>
<path d="M1601.4 664 L1601.4 635.25 L1608.57 635.25 L1608.57 527.45 L1615.74 527.45 L1615.74 513.08 L1630.08 513.08 L1630.08 498.71 L1637.25 498.71 L1637.25 484.33 L1658.76 484.33 L1658.76 469.96 L1673.1 469.96 L1673.1 455.59 L1687.44 455.59 L1687.44 448.4 L1816.5 448.4" stroke="#1f1f72" stroke-width="1.85" fill="none" stroke-linejoin="miter"/>
<path d="M1587.9 439.8V672.1H1830V439.8" stroke="#585858" stroke-width="1.7" fill="none"/>
<line x1="1587.9" y1="439.8" x2="1830" y2="439.8" stroke="#585858" stroke-width="1.7"/>
<path d="M1581.9 664H1587.9M1601.4 672.1V678.1M1581.9 620.88H1587.9M1644.42 672.1V678.1M1581.9 577.76H1587.9M1687.44 672.1V678.1M1581.9 534.64H1587.9M1730.46 672.1V678.1M1581.9 491.52H1587.9M1773.48 672.1V678.1M1581.9 448.4H1587.9M1816.5 672.1V678.1" stroke="#606060" stroke-width="1.2" fill="none"/>
<text x="1601.4" y="692.1" font-family="'Liberation Sans', Arial, sans-serif" font-size="8.2" fill="#3c3c3c" text-anchor="middle" font-weight="bold">0.0</text>
<text x="0" y="0" transform="translate(1573.3,664) rotate(-90)" font-family="'Liberation Sans', Arial, sans-serif" font-size="8.2" fill="#3c3c3c" text-anchor="middle" dominant-baseline="central" font-weight="bold">0.0</text>
<text x="1644.42" y="692.1" font-family="'Liberation Sans', Arial, sans-serif" font-size="8.2" fill="#3c3c3c" text-anchor="middle" font-weight="bold">0.2</text>
<text x="0" y="0" transform="translate(1573.3,620.88) rotate(-90)" font-family="'Liberation Sans', Arial, sans-serif" font-size="8.2" fill="#3c3c3c" text-anchor="middle" dominant-baseline="central" font-weight="bold">0.2</text>
<text x="1687.44" y="692.1" font-family="'Liberation Sans', Arial, sans-serif" font-size="8.2" fill="#3c3c3c" text-anchor="middle" font-weight="bold">0.4</text>
<text x="0" y="0" transform="translate(1573.3,577.76) rotate(-90)" font-family="'Liberation Sans', Arial, sans-serif" font-size="8.2" fill="#3c3c3c" text-anchor="middle" dominant-baseline="central" font-weight="bold">0.4</text>
<text x="1730.46" y="692.1" font-family="'Liberation Sans', Arial, sans-serif" font-size="8.2" fill="#3c3c3c" text-anchor="middle" font-weight="bold">0.6</text>
<text x="0" y="0" transform="translate(1573.3,534.64) rotate(-90)" font-family="'Liberation Sans', Arial, sans-serif" font-size="8.2" fill="#3c3c3c" text-anchor="middle" dominant-baseline="central" font-weight="bold">0.6</text>
<text x="1773.48" y="692.1" font-family="'Liberation Sans', Arial, sans-serif" font-size="8.2" fill="#3c3c3c" text-anchor="middle" font-weight="bold">0.8</text>
<text x="0" y="0" transform="translate(1573.3,491.52) rotate(-90)" font-family="'Liberation Sans', Arial, sans-serif" font-size="8.2" fill="#3c3c3c" text-anchor="middle" dominant-baseline="central" font-weight="bold">0.8</text>
<text x="1816.5" y="692.1" font-family="'Liberation Sans', Arial, sans-serif" font-size="8.2" fill="#3c3c3c" text-anchor="middle" font-weight="bold">1.0</text>
<text x="0" y="0" transform="translate(1573.3,448.4) rotate(-90)" font-family="'Liberation Sans', Arial, sans-serif" font-size="8.2" fill="#3c3c3c" text-anchor="middle" dominant-baseline="central" font-weight="bold">1.0</text>
<circle cx="1637.25" cy="484.33" r="2.6" fill="#e3182b"/>
<text x="1640.9" y="492" font-family="'Liberation Sans', Arial, sans-serif" font-size="8.4" fill="#262633" text-anchor="start" stroke="#262633" stroke-width="0.2">-0.163(0.8, 0.8)</text>
<text x="1709.25" y="561.7" font-family="'Liberation Sans', Arial, sans-serif" font-size="8.5" fill="#2c2c80" text-anchor="start" stroke="#2c2c80" stroke-width="0.1">AUC: 0.907</text>
<text x="1709.25" y="572.2" font-family="'Liberation Sans', Arial, sans-serif" font-size="8.5" fill="#2c2c80" text-anchor="start" stroke="#2c2c80" stroke-width="0.1">(0.817-0.963)</text>
<rect x="1868" y="418.6" width="130.7" height="252.3" fill="#fff"/>
<path d="M1868 648.7H1998.7M1868 595.8H1998.7M1868 542.9H1998.7M1868 490H1998.7M1868 437.1H1998.7M1903.4 418.6V670.9M1963.3 418.6V670.9" stroke="#ececec" stroke-width="1" fill="none"/>
<path d="M1868 622.25H1998.7M1868 569.35H1998.7M1868 516.45H1998.7M1868 463.55H1998.7" stroke="#f4f4f4" stroke-width="1" fill="none"/>
<path d="M1903.55 429.5V461.9M1903.55 544.9V603" stroke="#505050" stroke-width="1" fill="none"/>
<rect x="1881.1" y="461.9" width="44.9" height="83" fill="#6262ee" stroke="#333" stroke-width="1"/>
<line x1="1881.1" y1="516" x2="1926" y2="516" stroke="#2b2b2b" stroke-width="2"/>
<path d="M1963.25 522.6V561.2M1963.25 593V635.6" stroke="#505050" stroke-width="1" fill="none"/>
<rect x="1940.7" y="561.2" width="45.1" height="31.8" fill="#fbab23" stroke="#333" stroke-width="1"/>
<line x1="1940.7" y1="579.1" x2="1985.8" y2="579.1" stroke="#2b2b2b" stroke-width="2"/>
<g fill="#000"><circle cx="1888.1" cy="429.6" r="1.65"/><circle cx="1899.7" cy="437.2" r="1.65"/><circle cx="1912.1" cy="438.5" r="1.65"/><circle cx="1884.6" cy="443.5" r="1.65"/><circle cx="1895.8" cy="456.3" r="1.65"/><circle cx="1910.4" cy="456.3" r="1.65"/><circle cx="1918" cy="455.6" r="1.65"/><circle cx="1919.3" cy="461.2" r="1.65"/><circle cx="1905" cy="463.9" r="1.65"/><circle cx="1891.3" cy="480.5" r="1.65"/><circle cx="1913.4" cy="482.2" r="1.65"/><circle cx="1925.5" cy="496.5" r="1.65"/><circle cx="1926.4" cy="500.9" r="1.65"/><circle cx="1905.9" cy="509.3" r="1.65"/><circle cx="1900.2" cy="516.7" r="1.65"/><circle cx="1903.2" cy="516.9" r="1.65"/><circle cx="1880.5" cy="520.8" r="1.65"/><circle cx="1885.5" cy="519.4" r="1.65"/><circle cx="1927.3" cy="526.7" r="1.65"/><circle cx="1915.7" cy="532.9" r="1.65"/><circle cx="1926.4" cy="535.4" r="1.65"/><circle cx="1891.7" cy="539" r="1.65"/><circle cx="1881" cy="546.8" r="1.65"/><circle cx="1902.4" cy="548" r="1.65"/><circle cx="1912.7" cy="548.4" r="1.65"/><circle cx="1908" cy="559.9" r="1.65"/><circle cx="1916.2" cy="562.2" r="1.65"/><circle cx="1885.5" cy="562.8" r="1.65"/><circle cx="1882.4" cy="568.5" r="1.65"/><circle cx="1916.2" cy="603.1" r="1.65"/><circle cx="1961.6" cy="522.3" r="1.65"/><circle cx="1968.7" cy="534.5" r="1.65"/><circle cx="1977.1" cy="534.7" r="1.65"/><circle cx="1978.8" cy="541.3" r="1.65"/><circle cx="1948.6" cy="541.6" r="1.65"/><circle cx="1941.8" cy="555.5" r="1.65"/><circle cx="1947.4" cy="554.6" r="1.65"/><circle cx="1944.2" cy="561.7" r="1.65"/><circle cx="1960.5" cy="561.3" r="1.65"/><circle cx="1954.5" cy="567.9" r="1.65"/><circle cx="1970" cy="568.5" r="1.65"/><circle cx="1956.1" cy="573.3" r="1.65"/><circle cx="1944.5" cy="574.7" r="1.65"/><circle cx="1945.4" cy="576.5" r="1.65"/><circle cx="1939.7" cy="580" r="1.65"/><circle cx="1981.5" cy="579.1" r="1.65"/><circle cx="1948.6" cy="585" r="1.65"/><circle cx="1981.9" cy="584.1" r="1.65"/><circle cx="1986" cy="582.7" r="1.65"/><circle cx="1945.4" cy="591.6" r="1.65"/><circle cx="1962.5" cy="591.6" r="1.65"/><circle cx="1962.5" cy="593.4" r="1.65"/><circle cx="1973.5" cy="593.4" r="1.65"/><circle cx="1967.3" cy="598.3" r="1.65"/><circle cx="1957.9" cy="601.9" r="1.65"/><circle cx="1955.7" cy="615.2" r="1.65"/><circle cx="1941.8" cy="619.2" r="1.65"/><circle cx="1955.2" cy="635.7" r="1.65"/><circle cx="1943.8" cy="659.7" r="1.65"/></g>
<circle cx="1903.5" cy="507.2" r="2.4" fill="#b0102c"/>
<circle cx="1963.3" cy="578.4" r="2.4" fill="#b0102c"/>
<line x1="1868" y1="551" x2="1998.7" y2="551" stroke="#d8424e" stroke-width="1.8"/>
<path d="M1868 418.6H1998.7V670.9H1868Z" stroke="#7a7a7a" stroke-width="1.2" fill="none"/>
<text x="1863.2" y="439.9" font-family="'Liberation Sans', Arial, sans-serif" font-size="7.6" fill="#666" text-anchor="end" >2</text>
<text x="1863.2" y="492.8" font-family="'Liberation Sans', Arial, sans-serif" font-size="7.6" fill="#666" text-anchor="end" >1</text>
<text x="1863.2" y="545.7" font-family="'Liberation Sans', Arial, sans-serif" font-size="7.6" fill="#666" text-anchor="end" >0</text>
<text x="1863.2" y="598.6" font-family="'Liberation Sans', Arial, sans-serif" font-size="7.6" fill="#666" text-anchor="end" >-1</text>
<text x="1863.2" y="651.5" font-family="'Liberation Sans', Arial, sans-serif" font-size="7.6" fill="#666" text-anchor="end" >-2</text>
<path d="M1864 437.1H1868M1864 490H1868M1864 542.9H1868M1864 595.8H1868M1864 648.7H1868" stroke="#7a7a7a" stroke-width="1" fill="none"/>
<path d="M1903.4 670.9V674.4M1963.3 670.9V674.4" stroke="#b0b0b0" stroke-width="1" fill="none"/>
<g><text x="1791.1602" y="698.5" transform="scale(1.056,1)" font-family="'Noto Serif CJK SC', 'Liberation Serif', serif" font-size="27.651" style="font-feature-settings:'hwid' 1" fill="#1a1a1a" >VC</text></g>
<g><text x="1853.6591" y="698.5" transform="scale(1.056,1)" font-family="'Noto Serif CJK SC', 'Liberation Serif', serif" font-size="27.651" style="font-feature-settings:'hwid' 1" fill="#1a1a1a" >N</text></g>
<text x="1563.2" y="422.3" font-family="'Liberation Sans', Arial, sans-serif" font-size="30.5" fill="#000" text-anchor="start" >H</text>
<g><text x="1418.1603" y="413" transform="scale(1.1321,1)" font-family="'Noto Serif CJK SC', 'Liberation Serif', serif" font-size="26.7114" style="font-feature-settings:'hwid' 1" fill="#1a1a1a" >5-L-Glutamyl-taurine</text></g>
<g><text x="1400.247" y="715.6" transform="scale(1.1406,1)" font-family="'Noto Serif CJK SC', 'Liberation Serif', serif" font-size="19.0604" style="font-feature-settings:'hwid' 1" fill="#1a1a1a" >False positive rate</text></g>
<g transform="translate(1558,670.2) rotate(-90) scale(1.1332,1)"><text x="0" y="0" font-family="'Noto Serif CJK SC', 'Liberation Serif', serif" font-size="19.0604" style="font-feature-settings:'hwid' 1" fill="#1a1a1a">True positive rate</text></g>
<g><text x="1609.6786 1620.8054 1637.8665 1651.9604 1666.0544" y="653.5" transform="scale(1.0785,1)" font-family="'Noto Serif CJK SC', 'Liberation Serif', serif" font-size="28.1879" style="font-feature-settings:'hwid' 1" fill="#1a1a1a" >0.907</text></g>
</svg>
</body></html>
